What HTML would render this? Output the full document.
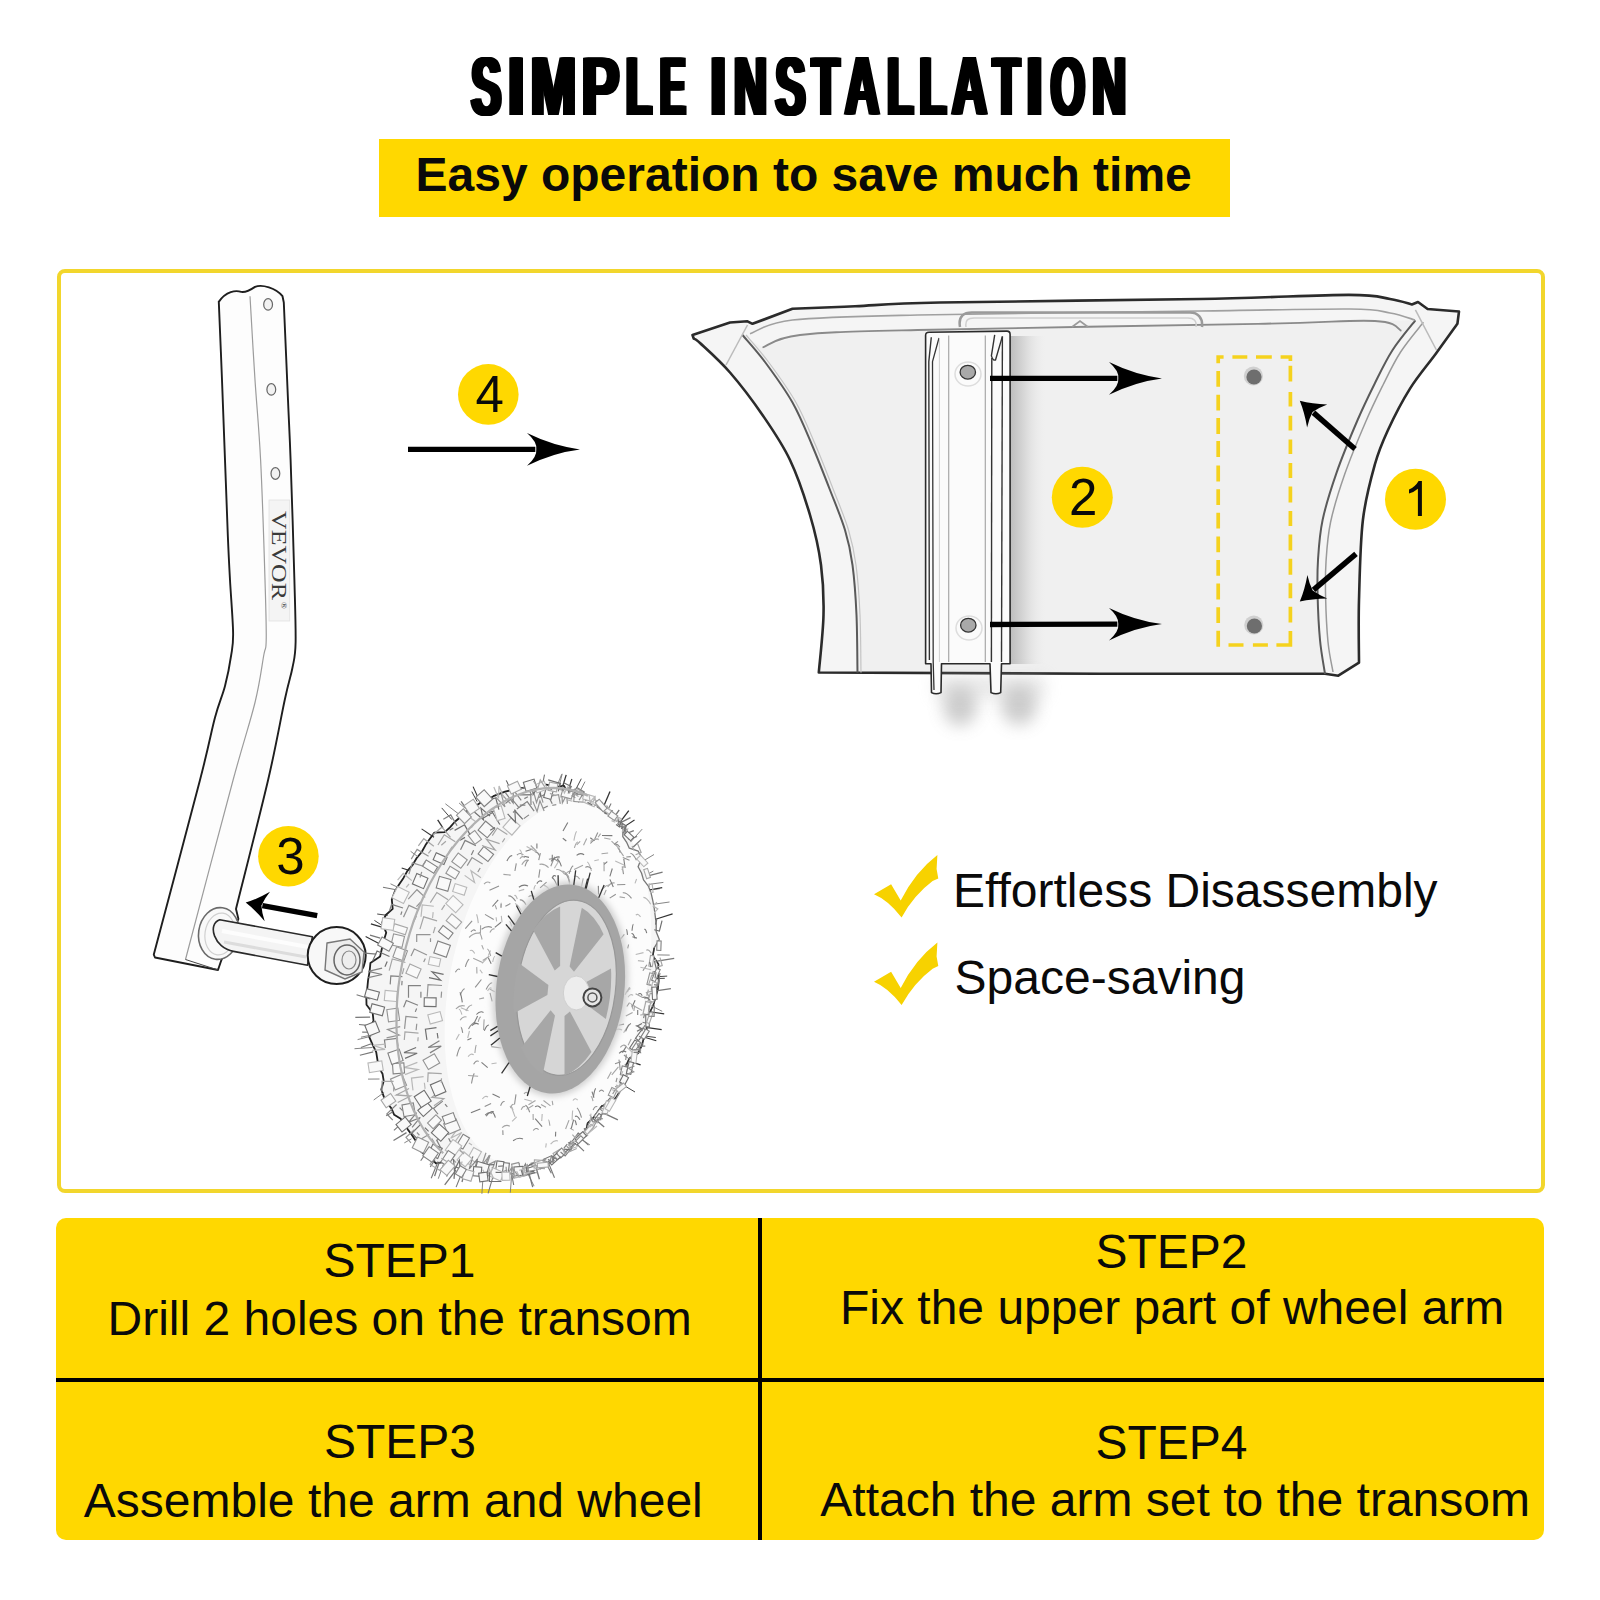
<!DOCTYPE html>
<html><head><meta charset="utf-8">
<style>
html,body{margin:0;padding:0;background:#fff;}
body{width:1600px;height:1600px;position:relative;overflow:hidden;font-family:"Liberation Sans",sans-serif;color:#0a0a0a;}
.t{position:absolute;white-space:nowrap;line-height:48px;font-size:48px;}
.sub{position:absolute;left:379px;top:139px;width:851px;height:78px;background:#FFD800;}
.box{position:absolute;left:57px;top:269px;width:1480px;height:916px;border:4px solid #F2D62C;border-radius:8px;}
.tbl{position:absolute;left:56px;top:1218px;width:1488px;height:322px;background:#FFD800;border-radius:10px;}
.vl{position:absolute;left:758px;top:1218px;width:4px;height:322px;background:#000;}
.hl{position:absolute;left:56px;top:1378px;width:1488px;height:4px;background:#000;}
svg{position:absolute;left:0;top:0;}
</style></head><body>
<svg width="1600" height="140" style="top:0">
<defs><g id="tw" font-family="Liberation Sans" font-weight="bold" font-size="84" fill="#000"><text transform="translate(468.71,115) scale(0.5345,1)">S</text><text transform="translate(505.36,115) scale(0.7190,1)">I</text><text transform="translate(528.25,115) scale(0.6487,1)">M</text><text transform="translate(579.33,115) scale(0.6711,1)">P</text><text transform="translate(623.47,115) scale(0.5034,1)">L</text><text transform="translate(657.44,115) scale(0.4562,1)">E</text><text transform="translate(707.55,115) scale(0.7025,1)">I</text><text transform="translate(731.45,115) scale(0.5427,1)">N</text><text transform="translate(773.11,115) scale(0.5345,1)">S</text><text transform="translate(809.50,115) scale(0.5317,1)">T</text><text transform="translate(842.62,115) scale(0.5643,1)">A</text><text transform="translate(884.65,115) scale(0.5080,1)">L</text><text transform="translate(917.07,115) scale(0.5220,1)">L</text><text transform="translate(949.40,115) scale(0.5749,1)">A</text><text transform="translate(990.51,115) scale(0.5236,1)">T</text><text transform="translate(1023.41,115) scale(0.7273,1)">I</text><text transform="translate(1048.19,115) scale(0.5243,1)">O</text><text transform="translate(1089.86,115) scale(0.5589,1)">N</text></g></defs>
<use href="#tw" x="0"/><use href="#tw" x="1"/><use href="#tw" x="2"/><use href="#tw" x="3"/><use href="#tw" x="4"/><use href="#tw" x="5"/>
</svg>
<div class="sub"></div>
<div class="t" style="left:415.5px;top:150.8px;font-weight:bold;">Easy operation to save much time</div>
<div class="box"></div>
<div class="tbl"></div>
<div class="vl"></div>
<div class="hl"></div>
<div class="t" style="left:323.4px;top:1237px;">STEP1</div>
<div class="t" style="left:107.5px;top:1294.6px;">Drill 2 holes on the transom</div>
<div class="t" style="left:1095.5px;top:1227.8px;">STEP2</div>
<div class="t" style="left:840px;top:1284.4px;">Fix the upper part of wheel arm</div>
<div class="t" style="left:323.9px;top:1418.2px;">STEP3</div>
<div class="t" style="left:83.8px;top:1476.6px;">Assemble the arm and wheel</div>
<div class="t" style="left:1095.5px;top:1419px;">STEP4</div>
<div class="t" style="left:820.3px;top:1475.8px;">Attach the arm set to the transom</div>
<div class="t" style="left:953px;top:867.1px;">Effortless Disassembly</div>
<div class="t" style="left:954.6px;top:953.9px;">Space-saving</div>
<svg width="1600" height="1600" viewBox="0 0 1600 1600">
<defs>
<filter id="blur8" x="-80%" y="-80%" width="260%" height="260%"><feGaussianBlur stdDeviation="8"/></filter>
<filter id="blur3" x="-50%" y="-50%" width="200%" height="200%"><feGaussianBlur stdDeviation="3"/></filter>
<linearGradient id="shR" x1="0" y1="0" x2="1" y2="0"><stop offset="0" stop-color="#bdbdbd"/><stop offset="0.4" stop-color="#d8d8d8"/><stop offset="1" stop-color="#ececec" stop-opacity="0"/></linearGradient>
</defs>
<path d="M692.5,335 L730.0,322.5 L747.5,321.3 L752.5,323.8 L792.5,308.8  C802.9,308.4 830.4,307.4 855.0,306.3 C879.6,305.2 882.5,303.7 940.0,302.5 C997.5,301.3 1131.9,300.3 1200.0,299.0 C1268.1,297.7 1317.1,294.9 1348.8,294.9 C1380.5,294.9 1379.5,297.4 1390.0,299.0 C1400.5,300.6 1408.2,303.6 1411.9,304.5 L1418.0,302.0 L1427.6,309.0 L1459.0,311.5 L1457.4,323.8  C1453.8,328.8 1443.9,342.7 1436.0,353.5 C1428.1,364.3 1418.0,375.9 1410.0,388.6 C1402.0,401.4 1393.8,417.4 1388.0,430.0 C1382.2,442.6 1379.2,449.0 1375.0,464.0 C1370.8,479.0 1365.6,497.3 1362.9,520.0 C1360.2,542.7 1359.7,576.2 1359.0,600.0 C1358.3,623.8 1359.0,652.2 1359.0,662.6 L1338.3,675.7 L1325.0,673.8 L1100.0,673.8 L818.8,672.5  C819.6,662.9 823.1,632.9 823.5,615.0 C823.9,597.1 823.2,581.7 821.0,565.0 C818.8,548.3 815.2,532.5 810.0,515.0 C804.8,497.5 797.9,476.7 790.0,460.0 C782.1,443.3 772.5,429.6 762.5,415.0 C752.5,400.4 740.4,384.5 730.0,372.5 C719.6,360.5 706.0,348.6 700.0,343.0 C694.0,337.4 694.8,339.5 693.8,338.8 Z" fill="#f5f5f5"/>
<path d="M742.5,335.0 C746.2,339.5 756.7,350.8 765.0,362.0 C773.3,373.2 784.7,388.7 792.5,402.5 C800.3,416.3 805.8,430.4 812.0,445.0 C818.2,459.6 824.5,475.8 830.0,490.0 C835.5,504.2 841.2,517.5 845.0,530.0 C848.8,542.5 850.6,550.8 852.5,565.0 C854.4,579.2 855.7,597.1 856.5,615.0 C857.3,632.9 857.3,662.9 857.5,672.5 L1325.0,673.8  C1324.2,668.2 1321.2,653.1 1320.0,640.0 C1318.8,626.9 1317.9,608.3 1317.6,595.0 C1317.3,581.7 1317.2,572.5 1318.0,560.0 C1318.8,547.5 1319.5,534.6 1322.6,520.0 C1325.7,505.4 1330.8,489.3 1336.6,472.6 C1342.4,455.9 1351.2,434.9 1357.6,420.0 C1364.0,405.1 1369.2,394.7 1375.0,383.0 C1380.8,371.3 1385.9,360.4 1392.6,350.0 C1399.3,339.6 1411.6,325.2 1415.4,320.3 L1375.0,321.0 L1257.8,323.8 L917.5,330.0 L800.0,335.0 L762.5,347.5 Z" fill="#f0f0f0"/>
<path d="M692.5,335 L730.0,322.5 L747.5,321.3 L752.5,323.8 L792.5,308.8  C802.9,308.4 830.4,307.4 855.0,306.3 C879.6,305.2 882.5,303.7 940.0,302.5 C997.5,301.3 1131.9,300.3 1200.0,299.0 C1268.1,297.7 1317.1,294.9 1348.8,294.9 C1380.5,294.9 1379.5,297.4 1390.0,299.0 C1400.5,300.6 1408.2,303.6 1411.9,304.5 L1418.0,302.0 L1427.6,309.0 L1459.0,311.5 L1457.4,323.8  C1453.8,328.8 1443.9,342.7 1436.0,353.5 C1428.1,364.3 1418.0,375.9 1410.0,388.6 C1402.0,401.4 1393.8,417.4 1388.0,430.0 C1382.2,442.6 1379.2,449.0 1375.0,464.0 C1370.8,479.0 1365.6,497.3 1362.9,520.0 C1360.2,542.7 1359.7,576.2 1359.0,600.0 C1358.3,623.8 1359.0,652.2 1359.0,662.6 L1338.3,675.7 L1325.0,673.8 L1100.0,673.8 L818.8,672.5  C819.6,662.9 823.1,632.9 823.5,615.0 C823.9,597.1 823.2,581.7 821.0,565.0 C818.8,548.3 815.2,532.5 810.0,515.0 C804.8,497.5 797.9,476.7 790.0,460.0 C782.1,443.3 772.5,429.6 762.5,415.0 C752.5,400.4 740.4,384.5 730.0,372.5 C719.6,360.5 706.0,348.6 700.0,343.0 C694.0,337.4 694.8,339.5 693.8,338.8 Z" fill="none" stroke="#2b2b2b" stroke-width="2.6" stroke-linejoin="round"/>
<path d="M742.5,335.0 C746.2,339.5 756.7,350.8 765.0,362.0 C773.3,373.2 784.7,388.7 792.5,402.5 C800.3,416.3 805.8,430.4 812.0,445.0 C818.2,459.6 824.5,475.8 830.0,490.0 C835.5,504.2 841.2,517.5 845.0,530.0 C848.8,542.5 850.6,550.8 852.5,565.0 C854.4,579.2 855.7,597.1 856.5,615.0 C857.3,632.9 857.3,662.9 857.5,672.5" fill="none" stroke="#5a5a5a" stroke-width="2"/>
<path d="M746.0,335.0 C749.8,339.5 760.2,350.8 768.5,362.0 C776.8,373.2 788.2,388.7 796.0,402.5 C803.8,416.3 809.2,430.4 815.5,445.0 C821.8,459.6 828.0,475.8 833.5,490.0 C839.0,504.2 844.8,517.5 848.5,530.0 C852.2,542.5 854.1,550.8 856.0,565.0 C857.9,579.2 859.2,597.1 860.0,615.0 C860.8,632.9 860.8,662.9 861.0,672.5" fill="none" stroke="#c4c4c4" stroke-width="1.2"/>
<path d="M1415.4,320.3 C1411.6,325.2 1399.3,339.6 1392.6,350.0 C1385.9,360.4 1380.8,371.3 1375.0,383.0 C1369.2,394.7 1364.0,405.1 1357.6,420.0 C1351.2,434.9 1342.4,455.9 1336.6,472.6 C1330.8,489.3 1325.7,505.4 1322.6,520.0 C1319.5,534.6 1318.8,547.5 1318.0,560.0 C1317.2,572.5 1317.3,581.7 1317.6,595.0 C1317.9,608.3 1318.8,626.9 1320.0,640.0 C1321.2,653.1 1324.2,668.2 1325.0,673.8" fill="none" stroke="#5a5a5a" stroke-width="2"/>
<path d="M1423.4,322.3 C1419.6,327.2 1407.3,341.6 1400.6,352.0 C1393.9,362.4 1388.8,373.3 1383.0,385.0 C1377.2,396.7 1372.0,407.1 1365.6,422.0 C1359.2,436.9 1350.4,457.9 1344.6,474.6 C1338.8,491.3 1333.7,507.4 1330.6,522.0 C1327.5,536.6 1326.8,549.5 1326.0,562.0 C1325.2,574.5 1325.3,583.7 1325.6,597.0 C1325.9,610.3 1326.8,629.5 1328.0,642.0 C1329.2,654.5 1332.2,667.0 1333.0,672.0" fill="none" stroke="#9a9a9a" stroke-width="1.5"/>
<path d="M747.5,325 L726,365" stroke="#bbb" stroke-width="1.5" fill="none"/>
<path d="M1415.4,309.8 L1436.4,350" stroke="#bbb" stroke-width="1.5" fill="none"/>
<path d="M750.0,333.8 C757.1,331.5 764.6,323.1 792.5,320.0 C820.4,316.9 849.6,316.5 917.5,315.0 C985.4,313.5 1127.9,312.0 1200.0,311.0 C1272.1,310.0 1318.3,308.7 1350.0,309.0 C1381.7,309.3 1379.2,311.2 1390.0,313.0 C1400.8,314.8 1410.8,318.8 1415.0,320.0" fill="none" stroke="#a0a0a0" stroke-width="1.6"/>
<path d="M762.5,347.5 C768.8,345.4 774.2,337.9 800.0,335.0 C825.8,332.1 841.2,331.9 917.5,330.0 C993.8,328.1 1181.5,325.3 1257.8,323.8 C1334.0,322.3 1351.1,319.8 1375.0,321.0 C1398.9,322.2 1397.0,329.2 1401.4,330.8" fill="none" stroke="#8a8a8a" stroke-width="1.8"/>
<path d="M960,327 C958,316 964,312.5 972,312.5 L1190,312.5 C1198,312.5 1203,318 1202,327" fill="none" stroke="#9a9a9a" stroke-width="2.5"/>
<path d="M966,327 C965,320 968,318 974,318 L1188,318 C1194,318 1197,321 1196,327" fill="none" stroke="#cfcfcf" stroke-width="1.5"/>
<path d="M1072,327 L1080,321 L1088,327" fill="none" stroke="#9a9a9a" stroke-width="1.8"/>
<circle cx="1253.4" cy="376" r="9.6" fill="#d0d0d0"/><circle cx="1254" cy="377" r="7.6" fill="#6e6e6e"/>
<circle cx="1253.8" cy="625" r="9.6" fill="#d0d0d0"/><circle cx="1254.4" cy="626" r="7.6" fill="#6e6e6e"/>
<rect x="1010" y="336" width="36" height="328" fill="url(#shR)"/>
<ellipse cx="960" cy="706" rx="17" ry="20" fill="#8a8a8a" opacity="0.42" filter="url(#blur8)"/>
<ellipse cx="1019" cy="705" rx="18" ry="20" fill="#8a8a8a" opacity="0.42" filter="url(#blur8)"/>
<rect x="935" y="676" width="110" height="22" fill="#bdbdbd" opacity="0.35" filter="url(#blur8)"/>
<g stroke-linejoin="round">
<path d="M925.6,335.5 Q925.6,332.3 929,332.3 L1007,331.1 Q1010.1,331.1 1010.1,334.5 L1010.1,663.7 L1001.5,663.7 L1000.7,692.6 Q996,695 991,692.6 L990,663.7 L941.5,663.7 L941,692.6 Q936,695 931.5,692.6 L931,663.7 L925.6,663.7 Z" fill="#fbfbfb" stroke="#2a2a2a" stroke-width="1.6"/>
<path d="M931.3,337.2 L928.8,361.6 L929.4,660" fill="none" stroke="#333" stroke-width="1.4"/>
<path d="M939,338 L932.5,361.6 L933.2,662 L934,690" fill="none" stroke="#333" stroke-width="1.3"/>
<line x1="939.4" y1="338" x2="939.4" y2="662" stroke="#cfcfcf" stroke-width="1"/>
<line x1="948.7" y1="335.6" x2="948.7" y2="662" stroke="#a8a8a8" stroke-width="1.2"/>
<line x1="985.3" y1="335.6" x2="985.3" y2="662" stroke="#a8a8a8" stroke-width="1.2"/>
<path d="M994.7,334.8 L991.4,355.9 Q993,361 995.5,360 L1002.4,336.4" fill="none" stroke="#333" stroke-width="1.4"/>
<line x1="991.8" y1="358" x2="991.4" y2="662" stroke="#333" stroke-width="1.4"/>
<line x1="1002.4" y1="336.4" x2="1001.5" y2="662" stroke="#333" stroke-width="1.4"/>
<ellipse cx="968" cy="374" rx="13" ry="12" fill="none" stroke="#ddd" stroke-width="1.5"/>
<ellipse cx="967.8" cy="372.2" rx="7.7" ry="6.9" fill="#a9a9a9" stroke="#333" stroke-width="1.3"/>
<ellipse cx="969" cy="628" rx="13" ry="12" fill="none" stroke="#ddd" stroke-width="1.5"/>
<ellipse cx="968.3" cy="625.2" rx="7.7" ry="6.9" fill="#a9a9a9" stroke="#333" stroke-width="1.3"/>
</g>
<path d="M218.8,301.9 C219.3,314.9 221.0,353.6 222.0,380.0 C223.0,406.4 224.0,434.2 225.0,460.0 C226.0,485.8 227.0,515.0 227.8,535.0 C228.6,555.0 229.1,563.8 230.0,580.0 C230.9,596.2 232.9,620.0 233.1,632.5 C233.3,645.0 232.6,646.1 231.2,655.0 C229.9,663.9 227.7,675.6 225.0,686.0 C222.3,696.4 219.2,701.8 215.0,717.5 C210.8,733.2 210.2,740.5 200.0,780.0 C189.8,819.5 161.5,925.5 153.8,954.6 L155.0,957.5 L218.0,970.0 L221.3,960.3 L238.4,918.9 L236.0,909.0  C241.3,887.5 259.9,815.0 268.1,780.0 C276.3,745.0 280.9,717.5 285.0,698.8 C289.1,680.0 290.7,676.9 292.5,667.5 C294.3,658.1 295.3,657.1 295.6,642.5 C295.9,627.9 295.2,610.4 294.4,580.0 C293.6,549.6 291.7,490.0 290.6,460.0 C289.5,430.0 289.1,426.2 288.0,400.0 C286.9,373.8 284.5,318.8 283.8,302.5 L282.5,296.2 C276,288 262,284 255,286.9 C249,291 245,292.5 241.25,291.9 C236,290 226,291 218.75,301.9 Z" fill="#fdfdfd" stroke="#1e1e1e" stroke-width="1.9" stroke-linejoin="round"/>
<path d="M250.0,296.2 C250.8,310.2 253.2,352.7 255.0,380.0 C256.8,407.3 258.9,426.7 260.6,460.0 C262.3,493.3 264.1,550.0 265.0,580.0 C265.9,610.0 266.5,627.5 266.2,640.0 C266.0,652.5 265.6,644.6 263.8,655.0 C261.9,665.4 260.1,681.7 255.0,702.5 C249.9,723.3 244.7,737.2 233.1,780.0 C221.5,822.8 193.4,929.6 185.5,959.5" fill="none" stroke="#9c9c9c" stroke-width="1.2"/>
<path d="M185.5,959.5 L218,970" stroke="#444" stroke-width="1" fill="none"/>
<ellipse cx="268.1" cy="304.4" rx="4.4" ry="5.8" fill="#f2f2f2" stroke="#666" stroke-width="1.2"/>
<ellipse cx="271.3" cy="389.4" rx="4.4" ry="5.8" fill="#f2f2f2" stroke="#666" stroke-width="1.2"/>
<ellipse cx="275.4" cy="473.5" rx="4.4" ry="5.8" fill="#f2f2f2" stroke="#666" stroke-width="1.2"/>
<rect x="269" y="500" width="20.7" height="121" fill="#f4f4f4" stroke="#e2e2e2" stroke-width="0.8"/>
<text transform="translate(271.5,511) rotate(90)" font-family="Liberation Serif" font-size="20" fill="#3a3a3a" textLength="89" lengthAdjust="spacingAndGlyphs">VEVOR</text>
<text transform="translate(280.5,602) rotate(90)" font-family="Liberation Serif" font-size="9" fill="#444">&#174;</text>
<ellipse cx="218.9" cy="933.5" rx="20.3" ry="26" transform="rotate(8 218.9 933.5)" fill="#f9f9f9" stroke="#6a6a6a" stroke-width="1.6"/>
<ellipse cx="220" cy="934" rx="15" ry="21" transform="rotate(8 220 934)" fill="none" stroke="#d0d0d0" stroke-width="1.2"/>
<path d="M219.7,919.7 L312.4,936.7 L307.5,965.2 L233.5,951.4 C214,948 207,924 219.7,919.7 Z" fill="#f4f4f4" stroke="#2a2a2a" stroke-width="1.6" stroke-linejoin="round"/>
<path d="M222,931 L308,947" stroke="#fdfdfd" stroke-width="4" fill="none"/>
<path d="M224,942 L306,957" stroke="#dcdcdc" stroke-width="3" fill="none"/>
<ellipse cx="336.7" cy="955.6" rx="29" ry="28.5" fill="#f8f8f8" stroke="#1e1e1e" stroke-width="2"/>
<path d="M327,943 L350,939 L364,952 L362,972 L345,979 L325,970 Z" fill="#eeeeee" stroke="#777" stroke-width="1.4"/>
<ellipse cx="347" cy="960" rx="13" ry="15" fill="none" stroke="#666" stroke-width="1.5"/>
<ellipse cx="349" cy="960" rx="7" ry="9" fill="none" stroke="#888" stroke-width="1.2"/>
<path d="M649.4,1013.2 L646.8,1021.2 L646.9,1029.9 L643.9,1037.7 L641.7,1045.8 L638.0,1053.3 L629.3,1058.5 L626.0,1065.8 L622.9,1073.2 L625.1,1083.5 L620.6,1090.3 L616.3,1097.1 L611.2,1103.2 L601.8,1105.9 L597.4,1112.1 L593.0,1118.1 L587.6,1123.2 L585.8,1131.7 L580.6,1136.8 L575.2,1141.6 L570.9,1147.7 L565.3,1152.1 L559.5,1156.0 L553.3,1159.0 L548.2,1163.8 L539.3,1161.0 L533.4,1163.1 L527.9,1166.1 L521.8,1167.2 L517.1,1173.2 L511.0,1173.8 L504.7,1172.8 L498.9,1174.0 L493.1,1174.1 L487.3,1173.4 L481.2,1177.9 L476.0,1172.1 L470.3,1171.7 L463.5,1175.1 L459.5,1168.4 L454.2,1166.5 L448.8,1164.4 L443.5,1162.2 L435.9,1163.3 L431.6,1158.7 L426.0,1155.8 L421.3,1151.7 L419.7,1144.3 L415.2,1140.0 L411.7,1134.7 L407.9,1129.6 L404.2,1124.3 L400.7,1118.8 L394.2,1114.8 L391.4,1108.4 L386.9,1102.8 L383.7,1096.4 L381.3,1089.5 L383.7,1080.9 L382.5,1073.7 L378.6,1067.1 L377.4,1059.6 L376.2,1052.1 L372.7,1044.8 L369.3,1037.2 L368.5,1029.3 L373.5,1021.0 L372.7,1013.0 L366.5,1004.8 L366.3,996.5 L367.3,988.2 L368.1,979.8 L369.6,971.6 L370.4,963.1 L380.1,956.5 L381.9,948.5 L383.8,940.5 L386.2,932.7 L382.1,922.6 L385.8,915.0 L392.7,908.9 L391.8,899.6 L394.7,891.8 L398.9,884.7 L403.5,877.9 L407.4,870.9 L412.7,864.8 L416.7,858.0 L421.7,852.0 L425.5,845.1 L429.9,838.8 L434.4,832.6 L444.7,832.2 L450.0,827.4 L454.6,822.0 L459.9,817.5 L466.0,814.2 L468.7,806.0 L476.4,805.6 L481.8,801.8 L487.9,799.6 L493.4,796.2 L499.2,793.9 L505.0,791.6 L511.0,790.3 L516.8,788.8 L522.7,787.9 L528.5,786.9 L534.3,786.7 L540.2,784.1 L546.1,784.6 L551.8,785.6 L557.5,786.9 L563.9,785.7 L567.8,792.6 L573.4,793.9 L578.5,796.6 L583.4,799.6 L588.4,802.5 L594.9,803.4 L599.9,806.8 L605.2,810.1 L610.6,813.6 L615.3,818.0 L619.7,822.7 L622.9,828.6 L622.8,836.7 L626.5,842.1 L629.3,848.2 L638.3,851.2 L641.7,857.5 L638.1,866.7 L641.5,873.0 L643.5,879.9 L648.4,886.1 L651.1,893.2 L652.8,900.6 L654.2,908.2 L655.2,915.9 L656.2,923.7 L656.2,931.7 L659.3,939.6 L654.2,947.8 L652.8,955.8 L658.5,964.2 L658.0,972.4 L658.7,980.9 L657.9,989.3 L655.6,997.4 L653.2,1005.5Z" fill="#fcfcfc"/>
<path d="M649.4,1013.2 L646.8,1021.2 L646.9,1029.9 L643.9,1037.7 L641.7,1045.8 L638.0,1053.3 L629.3,1058.5 L626.0,1065.8 L622.9,1073.2 L625.1,1083.5 L620.6,1090.3 L616.3,1097.1 L611.2,1103.2 L601.8,1105.9 L597.4,1112.1 L593.0,1118.1 L587.6,1123.2 L585.8,1131.7 L580.6,1136.8 L575.2,1141.6 L570.9,1147.7 L565.3,1152.1 L559.5,1156.0 L553.3,1159.0 L548.2,1163.8 L539.3,1161.0 L533.4,1163.1 L527.9,1166.1 L521.8,1167.2 L517.1,1173.2 L511.0,1173.8 L504.7,1172.8 L498.9,1174.0 L493.1,1174.1 L487.3,1173.4 L481.2,1177.9 L476.0,1172.1 L470.3,1171.7 L463.5,1175.1 L459.5,1168.4 L454.2,1166.5 L448.8,1164.4 L443.5,1162.2 L435.9,1163.3 L431.6,1158.7 L426.0,1155.8 L421.3,1151.7 L419.7,1144.3 L415.2,1140.0 L411.7,1134.7 L407.9,1129.6 L404.2,1124.3 L400.7,1118.8 L394.2,1114.8 L391.4,1108.4 L386.9,1102.8 L383.7,1096.4 L381.3,1089.5 L383.7,1080.9 L382.5,1073.7 L378.6,1067.1 L377.4,1059.6 L376.2,1052.1 L372.7,1044.8 L369.3,1037.2 L368.5,1029.3 L373.5,1021.0 L372.7,1013.0 L366.5,1004.8 L366.3,996.5 L367.3,988.2 L368.1,979.8 L369.6,971.6 L370.4,963.1 L380.1,956.5 L381.9,948.5 L383.8,940.5 L386.2,932.7 L382.1,922.6 L385.8,915.0 L392.7,908.9 L391.8,899.6 L394.7,891.8 L398.9,884.7 L403.5,877.9 L407.4,870.9 L412.7,864.8 L416.7,858.0 L421.7,852.0 L425.5,845.1 L429.9,838.8 L434.4,832.6 L444.7,832.2 L450.0,827.4 L454.6,822.0 L459.9,817.5 L466.0,814.2 L468.7,806.0 L476.4,805.6 L481.8,801.8 L487.9,799.6 L493.4,796.2 L499.2,793.9 L505.0,791.6 L511.0,790.3 L516.8,788.8 L522.7,787.9 L528.5,786.9 L534.3,786.7 L540.2,784.1 L546.1,784.6 L551.8,785.6 L557.5,786.9 L563.9,785.7 L567.8,792.6 L573.4,793.9 L578.5,796.6 L583.4,799.6 L588.4,802.5 L594.9,803.4 L599.9,806.8 L605.2,810.1 L610.6,813.6 L615.3,818.0 L619.7,822.7 L622.9,828.6 L622.8,836.7 L626.5,842.1 L629.3,848.2 L638.3,851.2 L641.7,857.5 L638.1,866.7 L641.5,873.0 L643.5,879.9 L648.4,886.1 L651.1,893.2 L652.8,900.6 L654.2,908.2 L655.2,915.9 L656.2,923.7 L656.2,931.7 L659.3,939.6 L654.2,947.8 L652.8,955.8 L658.5,964.2 L658.0,972.4 L658.7,980.9 L657.9,989.3 L655.6,997.4 L653.2,1005.5Z M643.9,1004.4 L640.9,1017.0 L637.5,1029.5 L633.7,1041.8 L629.5,1053.7 L624.9,1065.4 L619.8,1076.6 L614.5,1087.4 L608.8,1097.7 L602.8,1107.4 L596.6,1116.6 L590.1,1125.0 L583.4,1132.8 L576.5,1139.9 L569.5,1146.2 L562.4,1151.7 L555.3,1156.5 L548.1,1160.3 L540.8,1163.3 L533.7,1165.5 L526.6,1166.7 L519.6,1167.1 L512.7,1166.5 L506.0,1165.1 L499.5,1162.8 L493.3,1159.6 L487.3,1155.6 L481.6,1150.7 L476.2,1145.1 L471.2,1138.6 L466.6,1131.4 L462.3,1123.4 L458.5,1114.8 L455.1,1105.6 L452.2,1095.7 L449.7,1085.3 L447.7,1074.5 L446.2,1063.1 L445.2,1051.4 L444.7,1039.4 L444.7,1027.1 L445.2,1014.6 L446.2,1001.9 L447.7,989.1 L449.7,976.4 L452.1,963.6 L455.1,951.0 L458.5,938.5 L462.3,926.2 L466.5,914.3 L471.1,902.6 L476.2,891.4 L481.5,880.6 L487.2,870.3 L493.2,860.6 L499.4,851.4 L505.9,843.0 L512.6,835.2 L519.5,828.1 L526.5,821.8 L533.6,816.3 L540.7,811.5 L547.9,807.7 L555.2,804.7 L562.3,802.5 L569.4,801.3 L576.4,800.9 L583.3,801.5 L590.0,802.9 L596.5,805.2 L602.7,808.4 L608.7,812.4 L614.4,817.3 L619.8,822.9 L624.8,829.4 L629.4,836.6 L633.7,844.6 L637.5,853.2 L640.9,862.4 L643.8,872.3 L646.3,882.7 L648.3,893.5 L649.8,904.9 L650.8,916.6 L651.3,928.6 L651.3,940.9 L650.8,953.4 L649.8,966.1 L648.3,978.9 L646.3,991.6Z" fill="#f5f5f5" fill-rule="evenodd"/>
<path d="M443.5,1162.2 L435.9,1163.3 L431.6,1158.7 L426.0,1155.8 L421.3,1151.7 L419.7,1144.3 L415.2,1140.0 L411.7,1134.7 L407.9,1129.6 L404.2,1124.3 L400.7,1118.8 L394.2,1114.8 L391.4,1108.4 L386.9,1102.8 L383.7,1096.4 L381.3,1089.5 L383.7,1080.9 L382.5,1073.7 L378.6,1067.1 L377.4,1059.6 L376.2,1052.1 L372.7,1044.8 L369.3,1037.2 L368.5,1029.3 L373.5,1021.0 L372.7,1013.0 L366.5,1004.8 L366.3,996.5 L367.3,988.2 L368.1,979.8 L369.6,971.6 L370.4,963.1 L380.1,956.5 L381.9,948.5 L383.8,940.5 L386.2,932.7 L382.1,922.6 L385.8,915.0 L392.7,908.9 L391.8,899.6 L394.7,891.8 L398.9,884.7 L403.5,877.9 L407.4,870.9 L412.7,864.8 L416.7,858.0 L421.7,852.0 L425.5,845.1 L429.9,838.8 L434.4,832.6 L444.7,832.2 L450.0,827.4 L454.6,822.0 L459.9,817.5 L466.0,814.2 L468.7,806.0 L476.4,805.6 L481.8,801.8 L487.9,799.6 L493.4,796.2 L499.2,793.9 L505.0,791.6 L511.0,790.3 L516.8,788.8 L522.7,787.9 L528.5,786.9 L534.3,786.7 L540.2,784.1 L546.1,784.6 L551.8,785.6 L557.5,786.9 L563.9,785.7 L567.8,792.6 L573.4,793.9 L578.5,796.6 L583.4,799.6 L588.4,802.5 L594.9,803.4 L599.9,806.8 L605.2,810.1" fill="none" stroke="#222" stroke-width="1.8" stroke-linejoin="round"/>
<path d="M605.2,810.1 L610.6,813.6 L615.3,818.0 L619.7,822.7 L622.9,828.6 L622.8,836.7 L626.5,842.1 L629.3,848.2 L638.3,851.2 L641.7,857.5 L638.1,866.7 L641.5,873.0 L643.5,879.9 L648.4,886.1 L651.1,893.2 L652.8,900.6 L654.2,908.2 L655.2,915.9 L656.2,923.7 L656.2,931.7 L659.3,939.6 L654.2,947.8 L652.8,955.8 L658.5,964.2 L658.0,972.4 L658.7,980.9 L657.9,989.3 L655.6,997.4 L653.2,1005.5 L649.4,1013.2 L646.8,1021.2 L646.9,1029.9 L643.9,1037.7 L641.7,1045.8 L638.0,1053.3 L629.3,1058.5 L626.0,1065.8 L622.9,1073.2 L625.1,1083.5 L620.6,1090.3 L616.3,1097.1 L611.2,1103.2 L601.8,1105.9 L597.4,1112.1 L593.0,1118.1 L587.6,1123.2 L585.8,1131.7 L580.6,1136.8 L575.2,1141.6 L570.9,1147.7 L565.3,1152.1 L559.5,1156.0 L553.3,1159.0 L548.2,1163.8 L539.3,1161.0 L533.4,1163.1 L527.9,1166.1 L521.8,1167.2 L517.1,1173.2 L511.0,1173.8 L504.7,1172.8 L498.9,1174.0 L493.1,1174.1 L487.3,1173.4 L481.2,1177.9 L476.0,1172.1 L470.3,1171.7 L463.5,1175.1 L459.5,1168.4 L454.2,1166.5 L448.8,1164.4" fill="none" stroke="#777" stroke-width="1.3" stroke-linejoin="round"/>
<path d="M654.2,947.8 L652.8,955.8 L658.5,964.2 L658.0,972.4 L658.7,980.9 L657.9,989.3 L655.6,997.4 L653.2,1005.5 L649.4,1013.2 L646.8,1021.2 L646.9,1029.9 L643.9,1037.7 L641.7,1045.8 L638.0,1053.3 L629.3,1058.5 L626.0,1065.8 L622.9,1073.2 L625.1,1083.5 L620.6,1090.3 L616.3,1097.1 L611.2,1103.2 L601.8,1105.9 L597.4,1112.1 L593.0,1118.1 L587.6,1123.2 L585.8,1131.7" fill="none" stroke="#333" stroke-width="1.6" stroke-linejoin="round"/>
<line x1="370.3" y1="999.0" x2="356.6" y2="994.8" stroke="#777" stroke-width="1.1"/><line x1="618.1" y1="824.7" x2="628.8" y2="810.6" stroke="#333" stroke-width="1.3"/><line x1="643.1" y1="1035.8" x2="655.8" y2="1037.5" stroke="#333" stroke-width="0.9"/><line x1="535.8" y1="1166.5" x2="539.4" y2="1179.2" stroke="#777" stroke-width="1.3"/><line x1="621.7" y1="1084.1" x2="635.0" y2="1092.0" stroke="#333" stroke-width="0.9"/><line x1="645.8" y1="875.2" x2="653.3" y2="871.1" stroke="#777" stroke-width="0.9"/><line x1="578.8" y1="793.7" x2="585.0" y2="781.6" stroke="#777" stroke-width="0.9"/><line x1="370.1" y1="1017.2" x2="355.3" y2="1017.4" stroke="#777" stroke-width="1.3"/><line x1="511.6" y1="1174.1" x2="513.7" y2="1185.0" stroke="#777" stroke-width="1.1"/><line x1="380.3" y1="938.1" x2="370.0" y2="935.1" stroke="#777" stroke-width="1.1"/><line x1="655.6" y1="919.2" x2="672.6" y2="913.9" stroke="#333" stroke-width="1.1"/><line x1="579.2" y1="1137.9" x2="589.9" y2="1144.9" stroke="#777" stroke-width="0.9"/><line x1="371.1" y1="1035.1" x2="361.0" y2="1037.2" stroke="#777" stroke-width="0.9"/><line x1="650.2" y1="889.9" x2="659.8" y2="888.7" stroke="#777" stroke-width="0.9"/><line x1="464.4" y1="1172.8" x2="462.0" y2="1182.0" stroke="#777" stroke-width="1.3"/><line x1="657.3" y1="954.9" x2="669.7" y2="955.1" stroke="#777" stroke-width="0.9"/><line x1="545.5" y1="1161.9" x2="551.3" y2="1173.2" stroke="#777" stroke-width="1.1"/><line x1="372.0" y1="1043.4" x2="360.9" y2="1047.6" stroke="#777" stroke-width="1.1"/><line x1="642.8" y1="1036.7" x2="656.3" y2="1040.7" stroke="#333" stroke-width="1.1"/><line x1="383.8" y1="926.6" x2="374.4" y2="920.4" stroke="#333" stroke-width="0.9"/><line x1="655.7" y1="978.5" x2="664.8" y2="978.3" stroke="#333" stroke-width="0.9"/><line x1="450.1" y1="1167.7" x2="446.6" y2="1176.5" stroke="#777" stroke-width="1.3"/><line x1="612.9" y1="818.8" x2="619.2" y2="810.0" stroke="#777" stroke-width="1.3"/><line x1="376.3" y1="954.1" x2="364.8" y2="953.1" stroke="#777" stroke-width="1.3"/><line x1="526.0" y1="1170.2" x2="534.1" y2="1186.1" stroke="#777" stroke-width="0.9"/><line x1="458.7" y1="814.0" x2="445.4" y2="803.8" stroke="#777" stroke-width="0.9"/><line x1="454.9" y1="1169.7" x2="454.0" y2="1178.9" stroke="#777" stroke-width="1.3"/><line x1="372.5" y1="1047.5" x2="354.5" y2="1048.7" stroke="#777" stroke-width="0.9"/><line x1="387.7" y1="915.4" x2="377.2" y2="914.0" stroke="#333" stroke-width="0.9"/><line x1="528.0" y1="1169.6" x2="532.7" y2="1187.2" stroke="#777" stroke-width="1.3"/><line x1="568.4" y1="789.6" x2="571.9" y2="779.0" stroke="#333" stroke-width="1.1"/><line x1="602.5" y1="808.9" x2="610.0" y2="791.6" stroke="#333" stroke-width="1.3"/><line x1="399.6" y1="888.2" x2="390.5" y2="883.8" stroke="#777" stroke-width="0.9"/><line x1="479.2" y1="800.4" x2="473.1" y2="786.6" stroke="#333" stroke-width="1.1"/><line x1="655.9" y1="976.8" x2="667.2" y2="976.1" stroke="#333" stroke-width="0.9"/><line x1="621.3" y1="828.6" x2="634.5" y2="820.0" stroke="#333" stroke-width="1.1"/><line x1="654.0" y1="991.1" x2="670.9" y2="988.6" stroke="#777" stroke-width="1.1"/><line x1="370.8" y1="1032.2" x2="362.2" y2="1032.1" stroke="#777" stroke-width="1.1"/><line x1="640.8" y1="862.4" x2="654.0" y2="854.5" stroke="#777" stroke-width="0.9"/><line x1="509.8" y1="788.1" x2="506.3" y2="780.4" stroke="#333" stroke-width="0.9"/><line x1="455.9" y1="1170.1" x2="444.7" y2="1184.8" stroke="#777" stroke-width="1.3"/><line x1="411.5" y1="1138.8" x2="404.3" y2="1142.9" stroke="#777" stroke-width="0.9"/><line x1="392.9" y1="1111.7" x2="386.1" y2="1115.9" stroke="#777" stroke-width="1.1"/><line x1="443.3" y1="1164.4" x2="438.3" y2="1178.7" stroke="#777" stroke-width="0.9"/><line x1="602.6" y1="1112.6" x2="617.9" y2="1119.9" stroke="#777" stroke-width="1.3"/><line x1="632.8" y1="1062.3" x2="640.6" y2="1064.9" stroke="#333" stroke-width="1.3"/><line x1="657.1" y1="961.2" x2="674.2" y2="958.3" stroke="#777" stroke-width="1.3"/><line x1="379.5" y1="1079.0" x2="368.0" y2="1079.1" stroke="#777" stroke-width="0.9"/><line x1="439.3" y1="1162.1" x2="434.6" y2="1176.1" stroke="#777" stroke-width="1.3"/><line x1="648.7" y1="884.4" x2="663.4" y2="882.4" stroke="#777" stroke-width="0.9"/><line x1="653.4" y1="904.3" x2="669.5" y2="902.0" stroke="#777" stroke-width="0.9"/><line x1="617.7" y1="824.1" x2="630.5" y2="817.7" stroke="#777" stroke-width="1.3"/><line x1="465.8" y1="808.8" x2="459.1" y2="803.0" stroke="#777" stroke-width="0.9"/><line x1="384.1" y1="1092.4" x2="373.7" y2="1100.0" stroke="#777" stroke-width="0.9"/><line x1="451.9" y1="819.6" x2="441.7" y2="807.9" stroke="#333" stroke-width="0.9"/><line x1="558.9" y1="787.0" x2="562.2" y2="773.8" stroke="#777" stroke-width="0.9"/><line x1="556.8" y1="786.5" x2="561.7" y2="774.3" stroke="#777" stroke-width="0.9"/><line x1="542.5" y1="784.7" x2="544.5" y2="774.6" stroke="#777" stroke-width="1.1"/><line x1="628.8" y1="839.4" x2="637.1" y2="836.4" stroke="#777" stroke-width="1.1"/><line x1="574.5" y1="791.9" x2="581.3" y2="778.7" stroke="#333" stroke-width="0.9"/><line x1="406.5" y1="1132.6" x2="393.5" y2="1140.5" stroke="#777" stroke-width="1.3"/><line x1="409.4" y1="870.5" x2="401.7" y2="868.0" stroke="#333" stroke-width="1.3"/><line x1="596.3" y1="1120.3" x2="604.2" y2="1127.0" stroke="#777" stroke-width="1.3"/><line x1="383.4" y1="927.6" x2="370.9" y2="923.9" stroke="#333" stroke-width="1.3"/><line x1="511.7" y1="1174.1" x2="510.3" y2="1192.7" stroke="#777" stroke-width="0.9"/><line x1="435.1" y1="1159.5" x2="430.3" y2="1166.9" stroke="#777" stroke-width="1.1"/><line x1="651.3" y1="1005.9" x2="662.2" y2="1011.3" stroke="#777" stroke-width="0.9"/><line x1="418.3" y1="857.0" x2="410.6" y2="851.3" stroke="#777" stroke-width="0.9"/><line x1="434.0" y1="837.2" x2="421.6" y2="828.9" stroke="#333" stroke-width="1.1"/><line x1="483.1" y1="1176.0" x2="481.9" y2="1193.8" stroke="#777" stroke-width="0.9"/><line x1="547.6" y1="1160.7" x2="554.5" y2="1177.8" stroke="#777" stroke-width="1.1"/><line x1="426.1" y1="1152.9" x2="420.7" y2="1160.8" stroke="#777" stroke-width="1.1"/><line x1="579.8" y1="1137.4" x2="588.5" y2="1145.1" stroke="#777" stroke-width="1.1"/><line x1="625.2" y1="834.0" x2="633.8" y2="830.6" stroke="#777" stroke-width="1.3"/><line x1="645.8" y1="1027.4" x2="661.7" y2="1029.6" stroke="#333" stroke-width="1.1"/><line x1="649.9" y1="1011.8" x2="664.2" y2="1013.9" stroke="#333" stroke-width="1.1"/><line x1="633.3" y1="847.0" x2="641.3" y2="839.4" stroke="#777" stroke-width="1.3"/><line x1="438.1" y1="1161.5" x2="431.2" y2="1178.3" stroke="#777" stroke-width="1.1"/><line x1="370.4" y1="1025.6" x2="359.0" y2="1024.5" stroke="#777" stroke-width="1.1"/><line x1="646.1" y1="876.3" x2="662.6" y2="872.2" stroke="#777" stroke-width="1.3"/><line x1="398.6" y1="890.2" x2="383.0" y2="887.3" stroke="#777" stroke-width="1.1"/><line x1="442.9" y1="827.9" x2="437.7" y2="819.9" stroke="#333" stroke-width="1.3"/><line x1="574.6" y1="1142.0" x2="584.0" y2="1151.2" stroke="#777" stroke-width="1.1"/><line x1="462.1" y1="1172.2" x2="456.1" y2="1187.1" stroke="#777" stroke-width="1.1"/><line x1="477.1" y1="801.6" x2="471.8" y2="791.6" stroke="#333" stroke-width="0.9"/><line x1="466.1" y1="808.6" x2="461.1" y2="801.3" stroke="#777" stroke-width="1.3"/><line x1="493.1" y1="1176.2" x2="488.1" y2="1193.4" stroke="#777" stroke-width="1.1"/><line x1="371.2" y1="1036.2" x2="357.6" y2="1039.6" stroke="#777" stroke-width="0.9"/><line x1="400.6" y1="1124.4" x2="393.9" y2="1130.4" stroke="#777" stroke-width="1.1"/><line x1="606.5" y1="812.4" x2="611.1" y2="803.4" stroke="#777" stroke-width="1.1"/><line x1="373.2" y1="1051.9" x2="359.9" y2="1055.2" stroke="#777" stroke-width="1.1"/><line x1="562.2" y1="787.8" x2="566.2" y2="774.9" stroke="#333" stroke-width="1.3"/><line x1="378.9" y1="943.4" x2="365.6" y2="936.6" stroke="#333" stroke-width="1.1"/><line x1="650.1" y1="889.7" x2="662.2" y2="887.6" stroke="#333" stroke-width="1.1"/><line x1="630.5" y1="842.1" x2="642.2" y2="829.1" stroke="#777" stroke-width="0.9"/>
<path d="M-5.0,-1.6 L-1.7,1.6 L1.7,-1.6 L5.0,1.6" transform="translate(644.3,1011.9) rotate(124)" fill="none" stroke="#b8b8b8" stroke-width="1.2"/><path d="M-4.0,-2.3 L-1.3,2.3 L1.3,-2.3 L4.0,2.3" transform="translate(639.5,1027.4) rotate(93)" fill="none" stroke="#707070" stroke-width="1.2"/><rect x="-4.9" y="-2.3" width="9.7" height="4.7" transform="translate(634.2,1045.4) rotate(123)" fill="#f9f9f9" stroke="#707070" stroke-width="1.1"/><path d="M-5.6,-2.9 L5.6,-2.9 L5.6,2.9 M-5.6,2.9 L0.0,2.9" transform="translate(628.5,1060.4) rotate(98)" fill="none" stroke="#949494" stroke-width="1.2"/><rect x="-4.4" y="-2.9" width="8.8" height="5.8" transform="translate(624.1,1070.9) rotate(103)" fill="#f9f9f9" stroke="#828282" stroke-width="1.1"/><path d="M-4.4,-2.2 L4.4,-2.2 L4.4,2.2 M-4.4,2.2 L0.0,2.2" transform="translate(618.2,1082.7) rotate(103)" fill="none" stroke="#949494" stroke-width="1.2"/><rect x="-4.2" y="-2.9" width="8.5" height="5.9" transform="translate(612.8,1092.5) rotate(115)" fill="#f9f9f9" stroke="#949494" stroke-width="1.1"/><path d="M-3.7,-1.8 L-1.2,1.8 L1.2,-1.8 L3.7,1.8" transform="translate(604.2,1106.9) rotate(136)" fill="none" stroke="#a6a6a6" stroke-width="1.2"/><rect x="-4.8" y="-2.5" width="9.5" height="5.0" transform="translate(598.8,1114.1) rotate(127)" fill="#f9f9f9" stroke="#828282" stroke-width="1.1"/><rect x="-5.0" y="-1.8" width="10.0" height="3.6" transform="translate(591.6,1123.9) rotate(119)" fill="#f9f9f9" stroke="#828282" stroke-width="1.1"/><path d="M-6.4,-2.3 L-2.1,2.3 L2.1,-2.3 L6.4,2.3" transform="translate(584.7,1131.8) rotate(132)" fill="none" stroke="#828282" stroke-width="1.2"/><rect x="-5.3" y="-3.1" width="10.6" height="6.2" transform="translate(577.6,1139.1) rotate(126)" fill="#f9f9f9" stroke="#707070" stroke-width="1.1"/><path d="M-3.7,-2.5 L3.7,-2.5 L3.7,2.5 M-3.7,2.5 L0.0,2.5" transform="translate(570.9,1145.1) rotate(130)" fill="none" stroke="#949494" stroke-width="1.2"/><rect x="-4.1" y="-3.6" width="8.1" height="7.3" transform="translate(558.4,1154.5) rotate(148)" fill="#f9f9f9" stroke="#a6a6a6" stroke-width="1.1"/><rect x="-4.5" y="-2.8" width="9.0" height="5.7" transform="translate(548.9,1160.1) rotate(156)" fill="#f9f9f9" stroke="#707070" stroke-width="1.1"/><rect x="-5.2" y="-4.0" width="10.4" height="8.1" transform="translate(539.4,1164.3) rotate(183)" fill="#f9f9f9" stroke="#a6a6a6" stroke-width="1.1"/><path d="M-3.6,-3.8 L3.6,-3.8 L3.6,3.8 M-3.6,3.8 L0.0,3.8" transform="translate(531.3,1167.0) rotate(169)" fill="none" stroke="#949494" stroke-width="1.2"/><path d="M-4.9,-4.5 L-1.6,4.5 L1.6,-4.5 L4.9,4.5" transform="translate(523.2,1168.3) rotate(188)" fill="none" stroke="#828282" stroke-width="1.2"/><rect x="-3.7" y="-5.2" width="7.4" height="10.4" transform="translate(516.4,1168.4) rotate(-194)" fill="#f9f9f9" stroke="#949494" stroke-width="1.1"/><rect x="-4.5" y="-5.6" width="9.0" height="11.3" transform="translate(504.3,1168.4) rotate(-174)" fill="#f9f9f9" stroke="#707070" stroke-width="1.1"/><rect x="-3.5" y="-5.6" width="7.0" height="11.1" transform="translate(499.7,1166.7) rotate(-172)" fill="#f9f9f9" stroke="#707070" stroke-width="1.1"/><path d="M-6.4,-5.4 L-2.1,5.4 L2.1,-5.4 L6.4,5.4" transform="translate(490.1,1163.8) rotate(-138)" fill="none" stroke="#949494" stroke-width="1.2"/><path d="M-3.5,-6.5 L-1.2,6.5 L1.2,-6.5 L3.5,6.5" transform="translate(485.9,1160.2) rotate(-151)" fill="none" stroke="#949494" stroke-width="1.2"/><rect x="-4.5" y="-6.0" width="8.9" height="12.0" transform="translate(474.6,1154.8) rotate(-151)" fill="#f9f9f9" stroke="#b8b8b8" stroke-width="1.1"/><path d="M-3.7,-5.6 L3.7,-5.6 L3.7,5.6 M-3.7,5.6 L0.0,5.6" transform="translate(465.9,1147.8) rotate(-148)" fill="none" stroke="#b8b8b8" stroke-width="1.2"/><rect x="-3.7" y="-6.4" width="7.4" height="12.9" transform="translate(463.0,1141.7) rotate(-149)" fill="#f9f9f9" stroke="#828282" stroke-width="1.1"/><path d="M-4.2,-6.1 L-1.4,6.1 L1.4,-6.1 L4.2,6.1" transform="translate(456.2,1135.4) rotate(-131)" fill="none" stroke="#b8b8b8" stroke-width="1.2"/><rect x="-5.8" y="-6.7" width="11.6" height="13.3" transform="translate(452.1,1126.6) rotate(-113)" fill="#f9f9f9" stroke="#949494" stroke-width="1.1"/><rect x="-4.1" y="-5.9" width="8.2" height="11.7" transform="translate(449.2,1118.5) rotate(-110)" fill="#f9f9f9" stroke="#828282" stroke-width="1.1"/><path d="M-3.7,-5.9 L3.7,-5.9 L3.7,5.9 M-3.7,5.9 L0.0,5.9" transform="translate(440.4,1107.7) rotate(-128)" fill="none" stroke="#828282" stroke-width="1.2"/><path d="M-6.5,-5.7 L-2.2,5.7 L2.2,-5.7 L6.5,5.7" transform="translate(437.8,1098.0) rotate(-105)" fill="none" stroke="#a6a6a6" stroke-width="1.2"/><rect x="-6.1" y="-5.8" width="12.3" height="11.7" transform="translate(438.1,1088.3) rotate(-113)" fill="#f9f9f9" stroke="#707070" stroke-width="1.1"/><path d="M-4.6,-6.8 L4.6,-6.8 L4.6,6.8 M-4.6,6.8 L0.0,6.8" transform="translate(434.7,1077.9) rotate(-87)" fill="none" stroke="#a6a6a6" stroke-width="1.2"/><rect x="-5.4" y="-6.6" width="10.8" height="13.1" transform="translate(431.4,1061.6) rotate(-120)" fill="#f9f9f9" stroke="#949494" stroke-width="1.1"/><path d="M-4.3,-6.4 L-1.4,6.4 L1.4,-6.4 L4.3,6.4" transform="translate(434.7,1046.8) rotate(-108)" fill="none" stroke="#828282" stroke-width="1.2"/><path d="M-5.4,-5.6 L5.4,-5.6 L5.4,5.6 M-5.4,5.6 L0.0,5.6" transform="translate(431.7,1033.8) rotate(-98)" fill="none" stroke="#707070" stroke-width="1.2"/><rect x="-4.7" y="-6.3" width="9.4" height="12.7" transform="translate(435.1,1017.8) rotate(-105)" fill="#f9f9f9" stroke="#b8b8b8" stroke-width="1.1"/><rect x="-4.3" y="-6.0" width="8.7" height="11.9" transform="translate(430.2,1002.2) rotate(-89)" fill="#f9f9f9" stroke="#707070" stroke-width="1.1"/><path d="M-6.1,-7.0 L6.1,-7.0 L6.1,7.0 M-6.1,7.0 L0.0,7.0" transform="translate(434.6,991.1) rotate(-86)" fill="none" stroke="#949494" stroke-width="1.2"/><path d="M-4.8,-5.7 L-1.6,5.7 L1.6,-5.7 L4.8,5.7" transform="translate(436.3,976.0) rotate(-62)" fill="none" stroke="#707070" stroke-width="1.2"/><rect x="-4.0" y="-5.5" width="8.0" height="11.0" transform="translate(434.5,961.6) rotate(-78)" fill="#f9f9f9" stroke="#b8b8b8" stroke-width="1.1"/><rect x="-6.3" y="-6.6" width="12.6" height="13.2" transform="translate(442.1,949.1) rotate(-71)" fill="#f9f9f9" stroke="#828282" stroke-width="1.1"/><rect x="-3.8" y="-6.2" width="7.7" height="12.5" transform="translate(445.7,932.4) rotate(-53)" fill="#f9f9f9" stroke="#828282" stroke-width="1.1"/><rect x="-4.4" y="-6.4" width="8.9" height="12.8" transform="translate(453.9,921.4) rotate(-50)" fill="#f9f9f9" stroke="#a6a6a6" stroke-width="1.1"/><rect x="-5.4" y="-6.8" width="10.8" height="13.6" transform="translate(454.4,904.1) rotate(-47)" fill="#f9f9f9" stroke="#b8b8b8" stroke-width="1.1"/><rect x="-4.2" y="-6.1" width="8.3" height="12.2" transform="translate(459.7,889.4) rotate(-72)" fill="#f9f9f9" stroke="#b8b8b8" stroke-width="1.1"/><path d="M-5.9,-5.8 L-2.0,5.8 L2.0,-5.8 L5.9,5.8" transform="translate(472.8,876.6) rotate(-36)" fill="none" stroke="#b8b8b8" stroke-width="1.2"/><path d="M-4.7,-6.2 L4.7,-6.2 L4.7,6.2 M-4.7,6.2 L0.0,6.2" transform="translate(474.9,864.8) rotate(-59)" fill="none" stroke="#949494" stroke-width="1.2"/><rect x="-4.6" y="-6.3" width="9.2" height="12.5" transform="translate(485.9,854.1) rotate(-52)" fill="#f9f9f9" stroke="#828282" stroke-width="1.1"/><path d="M-5.8,-6.7 L-1.9,6.7 L1.9,-6.7 L5.8,6.7" transform="translate(490.8,844.6) rotate(-55)" fill="none" stroke="#a6a6a6" stroke-width="1.2"/><path d="M-4.6,-6.0 L4.6,-6.0 L4.6,6.0 M-4.6,6.0 L0.0,6.0" transform="translate(499.8,835.1) rotate(-57)" fill="none" stroke="#a6a6a6" stroke-width="1.2"/><rect x="-6.3" y="-6.0" width="12.5" height="11.9" transform="translate(511.6,826.5) rotate(-49)" fill="#f9f9f9" stroke="#b8b8b8" stroke-width="1.1"/><path d="M-5.9,-5.5 L-2.0,5.5 L2.0,-5.5 L5.9,5.5" transform="translate(515.2,816.6) rotate(-23)" fill="none" stroke="#707070" stroke-width="1.2"/><path d="M-6.4,-5.9 L6.4,-5.9 L6.4,5.9 M-6.4,5.9 L0.0,5.9" transform="translate(525.5,810.1) rotate(-36)" fill="none" stroke="#828282" stroke-width="1.2"/><path d="M-5.3,-5.2 L-1.8,5.2 L1.8,-5.2 L5.3,5.2" transform="translate(538.5,806.2) rotate(-4)" fill="none" stroke="#949494" stroke-width="1.2"/><path d="M-5.0,-5.8 L5.0,-5.8 L5.0,5.8 M-5.0,5.8 L0.0,5.8" transform="translate(545.2,800.8) rotate(-26)" fill="none" stroke="#828282" stroke-width="1.2"/><path d="M-4.1,-4.7 L4.1,-4.7 L4.1,4.7 M-4.1,4.7 L0.0,4.7" transform="translate(555.4,800.0) rotate(-11)" fill="none" stroke="#949494" stroke-width="1.2"/><path d="M-3.8,-4.5 L-1.3,4.5 L1.3,-4.5 L3.8,4.5" transform="translate(564.6,798.7) rotate(12)" fill="none" stroke="#949494" stroke-width="1.2"/><path d="M-6.2,-3.6 L6.2,-3.6 L6.2,3.6 M-6.2,3.6 L0.0,3.6" transform="translate(573.4,797.8) rotate(15)" fill="none" stroke="#b8b8b8" stroke-width="1.2"/><rect x="-6.5" y="-3.8" width="12.9" height="7.5" transform="translate(580.5,798.3) rotate(4)" fill="#f9f9f9" stroke="#949494" stroke-width="1.1"/><rect x="-6.4" y="-3.0" width="12.7" height="6.0" transform="translate(589.6,801.5) rotate(24)" fill="#f9f9f9" stroke="#b8b8b8" stroke-width="1.1"/><path d="M-5.5,-2.8 L5.5,-2.8 L5.5,2.8 M-5.5,2.8 L0.0,2.8" transform="translate(593.6,802.5) rotate(28)" fill="none" stroke="#707070" stroke-width="1.2"/><rect x="-4.8" y="-2.5" width="9.5" height="4.9" transform="translate(603.2,808.2) rotate(36)" fill="#f9f9f9" stroke="#707070" stroke-width="1.1"/><path d="M-3.5,-2.2 L3.5,-2.2 L3.5,2.2 M-3.5,2.2 L0.0,2.2" transform="translate(608.4,812.0) rotate(17)" fill="none" stroke="#707070" stroke-width="1.2"/><rect x="-3.9" y="-2.0" width="7.8" height="4.1" transform="translate(614.5,817.5) rotate(33)" fill="#f9f9f9" stroke="#a6a6a6" stroke-width="1.1"/><path d="M-4.9,-1.6 L-1.6,1.6 L1.6,-1.6 L4.9,1.6" transform="translate(620.4,824.1) rotate(55)" fill="none" stroke="#828282" stroke-width="1.2"/><path d="M-3.5,-2.5 L-1.2,2.5 L1.2,-2.5 L3.5,2.5" transform="translate(625.1,830.2) rotate(41)" fill="none" stroke="#b8b8b8" stroke-width="1.2"/><rect x="-5.5" y="-1.8" width="10.9" height="3.6" transform="translate(651.4,961.1) rotate(99)" fill="#f9f9f9" stroke="#a6a6a6" stroke-width="1.1"/><rect x="-5.9" y="-1.8" width="11.9" height="3.5" transform="translate(650.0,979.0) rotate(104)" fill="#f9f9f9" stroke="#949494" stroke-width="1.1"/><path d="M-4.9,-2.3 L-1.6,2.3 L1.6,-2.3 L4.9,2.3" transform="translate(648.1,994.8) rotate(110)" fill="none" stroke="#a6a6a6" stroke-width="1.2"/><path d="M-4.2,-1.7 L4.2,-1.7 L4.2,1.7 M-4.2,1.7 L0.0,1.7" transform="translate(645.2,1018.6) rotate(104)" fill="none" stroke="#828282" stroke-width="1.2"/><rect x="-6.3" y="-1.9" width="12.7" height="3.8" transform="translate(640.8,1034.2) rotate(126)" fill="#f9f9f9" stroke="#707070" stroke-width="1.1"/><rect x="-5.1" y="-1.9" width="10.1" height="3.8" transform="translate(636.3,1045.9) rotate(124)" fill="#f9f9f9" stroke="#828282" stroke-width="1.1"/><path d="M-6.0,-1.8 L6.0,-1.8 L6.0,1.8 M-6.0,1.8 L0.0,1.8" transform="translate(630.2,1060.8) rotate(132)" fill="none" stroke="#828282" stroke-width="1.2"/><path d="M-4.2,-2.9 L4.2,-2.9 L4.2,2.9 M-4.2,2.9 L0.0,2.9" transform="translate(623.8,1076.2) rotate(113)" fill="none" stroke="#b8b8b8" stroke-width="1.2"/><path d="M-4.8,-2.6 L-1.6,2.6 L1.6,-2.6 L4.8,2.6" transform="translate(617.2,1088.4) rotate(137)" fill="none" stroke="#b8b8b8" stroke-width="1.2"/><rect x="-5.2" y="-1.8" width="10.4" height="3.5" transform="translate(608.0,1103.0) rotate(131)" fill="#f9f9f9" stroke="#707070" stroke-width="1.1"/><rect x="-3.9" y="-1.5" width="7.9" height="3.1" transform="translate(598.0,1117.6) rotate(126)" fill="#f9f9f9" stroke="#707070" stroke-width="1.1"/><rect x="-3.6" y="-2.8" width="7.3" height="5.6" transform="translate(591.6,1124.7) rotate(118)" fill="#f9f9f9" stroke="#949494" stroke-width="1.1"/><rect x="-6.1" y="-2.7" width="12.3" height="5.4" transform="translate(581.1,1136.3) rotate(147)" fill="#f9f9f9" stroke="#a6a6a6" stroke-width="1.1"/><path d="M-6.0,-3.1 L-2.0,3.1 L2.0,-3.1 L6.0,3.1" transform="translate(569.9,1146.3) rotate(128)" fill="none" stroke="#707070" stroke-width="1.2"/><rect x="-3.8" y="-3.2" width="7.6" height="6.4" transform="translate(561.2,1152.9) rotate(135)" fill="#f9f9f9" stroke="#828282" stroke-width="1.1"/><path d="M-6.3,-2.4 L-2.1,2.4 L2.1,-2.4 L6.3,2.4" transform="translate(550.5,1159.6) rotate(151)" fill="none" stroke="#949494" stroke-width="1.2"/><rect x="-4.4" y="-3.8" width="8.7" height="7.5" transform="translate(540.1,1164.8) rotate(161)" fill="#f9f9f9" stroke="#a6a6a6" stroke-width="1.1"/><path d="M-3.6,-3.8 L3.6,-3.8 L3.6,3.8 M-3.6,3.8 L0.0,3.8" transform="translate(530.0,1168.2) rotate(168)" fill="none" stroke="#707070" stroke-width="1.2"/><rect x="-4.4" y="-4.5" width="8.7" height="8.9" transform="translate(518.5,1171.0) rotate(176)" fill="#f9f9f9" stroke="#707070" stroke-width="1.1"/><path d="M-4.1,-4.4 L-1.4,4.4 L1.4,-4.4 L4.1,4.4" transform="translate(509.1,1172.0) rotate(-167)" fill="none" stroke="#949494" stroke-width="1.2"/><path d="M-5.9,-5.4 L5.9,-5.4 L5.9,5.4 M-5.9,5.4 L0.0,5.4" transform="translate(498.7,1171.8) rotate(-186)" fill="none" stroke="#828282" stroke-width="1.2"/><path d="M-5.9,-5.4 L5.9,-5.4 L5.9,5.4 M-5.9,5.4 L0.0,5.4" transform="translate(488.5,1170.2) rotate(-182)" fill="none" stroke="#707070" stroke-width="1.2"/><rect x="-6.2" y="-4.8" width="12.3" height="9.5" transform="translate(482.1,1167.6) rotate(-164)" fill="#f9f9f9" stroke="#707070" stroke-width="1.1"/><path d="M-4.0,-6.4 L-1.3,6.4 L1.3,-6.4 L4.0,6.4" transform="translate(473.4,1163.9) rotate(-152)" fill="none" stroke="#828282" stroke-width="1.2"/><rect x="-5.3" y="-5.3" width="10.6" height="10.7" transform="translate(464.5,1159.4) rotate(-140)" fill="#f9f9f9" stroke="#b8b8b8" stroke-width="1.1"/><path d="M-5.7,-5.8 L5.7,-5.8 L5.7,5.8 M-5.7,5.8 L0.0,5.8" transform="translate(456.0,1154.4) rotate(-136)" fill="none" stroke="#a6a6a6" stroke-width="1.2"/><rect x="-5.4" y="-6.5" width="10.9" height="13.1" transform="translate(453.5,1148.1) rotate(-144)" fill="#f9f9f9" stroke="#b8b8b8" stroke-width="1.1"/><path d="M-4.0,-5.7 L4.0,-5.7 L4.0,5.7 M-4.0,5.7 L0.0,5.7" transform="translate(443.6,1141.0) rotate(-118)" fill="none" stroke="#828282" stroke-width="1.2"/><rect x="-6.4" y="-5.9" width="12.7" height="11.8" transform="translate(440.0,1132.6) rotate(-138)" fill="#f9f9f9" stroke="#707070" stroke-width="1.1"/><rect x="-3.9" y="-6.0" width="7.9" height="11.9" transform="translate(434.6,1121.7) rotate(-135)" fill="#f9f9f9" stroke="#949494" stroke-width="1.1"/><rect x="-4.1" y="-6.1" width="8.2" height="12.2" transform="translate(425.1,1109.3) rotate(-132)" fill="#f9f9f9" stroke="#707070" stroke-width="1.1"/><rect x="-6.4" y="-5.9" width="12.9" height="11.9" transform="translate(422.7,1099.0) rotate(-123)" fill="#f9f9f9" stroke="#707070" stroke-width="1.1"/><path d="M-6.2,-6.1 L6.2,-6.1 L6.2,6.1 M-6.2,6.1 L0.0,6.1" transform="translate(418.3,1083.5) rotate(-97)" fill="none" stroke="#b8b8b8" stroke-width="1.2"/><path d="M-5.5,-6.8 L-1.8,6.8 L1.8,-6.8 L5.5,6.8" transform="translate(411.2,1068.5) rotate(-96)" fill="none" stroke="#b8b8b8" stroke-width="1.2"/><path d="M-4.4,-6.4 L-1.5,6.4 L1.5,-6.4 L4.4,6.4" transform="translate(410.6,1052.9) rotate(-100)" fill="none" stroke="#707070" stroke-width="1.2"/><path d="M-4.0,-6.8 L4.0,-6.8 L4.0,6.8 M-4.0,6.8 L0.0,6.8" transform="translate(411.4,1036.6) rotate(-85)" fill="none" stroke="#a6a6a6" stroke-width="1.2"/><path d="M-6.3,-5.8 L6.3,-5.8 L6.3,5.8 M-6.3,5.8 L0.0,5.8" transform="translate(411.0,1023.2) rotate(-84)" fill="none" stroke="#949494" stroke-width="1.2"/><path d="M-3.6,-6.3 L3.6,-6.3 L3.6,6.3 M-3.6,6.3 L0.0,6.3" transform="translate(410.8,1006.2) rotate(-68)" fill="none" stroke="#828282" stroke-width="1.2"/><path d="M-6.0,-6.2 L6.0,-6.2 L6.0,6.2 M-6.0,6.2 L0.0,6.2" transform="translate(414.7,991.7) rotate(-90)" fill="none" stroke="#828282" stroke-width="1.2"/><rect x="-5.1" y="-6.1" width="10.1" height="12.2" transform="translate(413.5,971.1) rotate(-66)" fill="#f9f9f9" stroke="#a6a6a6" stroke-width="1.1"/><path d="M-3.9,-7.0 L3.9,-7.0 L3.9,7.0 M-3.9,7.0 L0.0,7.0" transform="translate(419.0,955.5) rotate(-65)" fill="none" stroke="#949494" stroke-width="1.2"/><path d="M-3.7,-6.9 L3.7,-6.9 L3.7,6.9 M-3.7,6.9 L0.0,6.9" transform="translate(423.6,938.3) rotate(-90)" fill="none" stroke="#949494" stroke-width="1.2"/><path d="M-6.4,-7.0 L6.4,-7.0 L6.4,7.0 M-6.4,7.0 L0.0,7.0" transform="translate(428.5,925.0) rotate(-73)" fill="none" stroke="#a6a6a6" stroke-width="1.2"/><path d="M-5.9,-5.8 L5.9,-5.8 L5.9,5.8 M-5.9,5.8 L0.0,5.8" transform="translate(427.4,911.5) rotate(-84)" fill="none" stroke="#b8b8b8" stroke-width="1.2"/><path d="M-6.0,-6.7 L6.0,-6.7 L6.0,6.7 M-6.0,6.7 L0.0,6.7" transform="translate(439.2,901.2) rotate(-57)" fill="none" stroke="#a6a6a6" stroke-width="1.2"/><rect x="-6.0" y="-6.0" width="12.0" height="12.1" transform="translate(443.6,883.8) rotate(-74)" fill="#f9f9f9" stroke="#828282" stroke-width="1.1"/><rect x="-4.1" y="-5.5" width="8.1" height="11.0" transform="translate(452.7,872.6) rotate(-59)" fill="#f9f9f9" stroke="#949494" stroke-width="1.1"/><rect x="-5.4" y="-5.6" width="10.7" height="11.3" transform="translate(459.5,860.6) rotate(-53)" fill="#f9f9f9" stroke="#949494" stroke-width="1.1"/><path d="M-5.2,-6.0 L5.2,-6.0 L5.2,6.0 M-5.2,6.0 L0.0,6.0" transform="translate(468.2,847.7) rotate(-64)" fill="none" stroke="#828282" stroke-width="1.2"/><rect x="-4.1" y="-5.6" width="8.3" height="11.2" transform="translate(474.8,837.4) rotate(-37)" fill="#f9f9f9" stroke="#949494" stroke-width="1.1"/><rect x="-5.8" y="-6.0" width="11.7" height="12.0" transform="translate(486.4,829.5) rotate(-50)" fill="#f9f9f9" stroke="#828282" stroke-width="1.1"/><path d="M-5.6,-7.0 L5.6,-7.0 L5.6,7.0 M-5.6,7.0 L0.0,7.0" transform="translate(491.4,821.4) rotate(-31)" fill="none" stroke="#707070" stroke-width="1.2"/><rect x="-4.1" y="-6.5" width="8.2" height="13.1" transform="translate(499.2,813.2) rotate(-17)" fill="#f9f9f9" stroke="#b8b8b8" stroke-width="1.1"/><path d="M-3.9,-5.9 L3.9,-5.9 L3.9,5.9 M-3.9,5.9 L0.0,5.9" transform="translate(512.2,805.5) rotate(-40)" fill="none" stroke="#828282" stroke-width="1.2"/><path d="M-5.6,-5.2 L5.6,-5.2 L5.6,5.2 M-5.6,5.2 L0.0,5.2" transform="translate(525.3,799.9) rotate(-1)" fill="none" stroke="#828282" stroke-width="1.2"/><path d="M-4.9,-5.2 L-1.6,5.2 L1.6,-5.2 L4.9,5.2" transform="translate(538.3,797.3) rotate(2)" fill="none" stroke="#949494" stroke-width="1.2"/><rect x="-3.7" y="-4.9" width="7.5" height="9.8" transform="translate(548.5,793.7) rotate(15)" fill="#f9f9f9" stroke="#707070" stroke-width="1.1"/><path d="M-5.9,-3.7 L5.9,-3.7 L5.9,3.7 M-5.9,3.7 L0.0,3.7" transform="translate(556.8,792.2) rotate(22)" fill="none" stroke="#a6a6a6" stroke-width="1.2"/><rect x="-5.4" y="-3.8" width="10.8" height="7.5" transform="translate(567.1,794.0) rotate(16)" fill="#f9f9f9" stroke="#949494" stroke-width="1.1"/><path d="M-4.4,-3.3 L4.4,-3.3 L4.4,3.3 M-4.4,3.3 L0.0,3.3" transform="translate(577.1,795.0) rotate(32)" fill="none" stroke="#949494" stroke-width="1.2"/><path d="M-4.7,-3.1 L-1.6,3.1 L1.6,-3.1 L4.7,3.1" transform="translate(588.6,799.2) rotate(37)" fill="none" stroke="#949494" stroke-width="1.2"/><rect x="-3.9" y="-2.2" width="7.7" height="4.4" transform="translate(599.2,804.9) rotate(31)" fill="#f9f9f9" stroke="#949494" stroke-width="1.1"/><path d="M-4.7,-2.4 L4.7,-2.4 L4.7,2.4 M-4.7,2.4 L0.0,2.4" transform="translate(607.1,810.7) rotate(57)" fill="none" stroke="#a6a6a6" stroke-width="1.2"/><path d="M-4.1,-2.9 L4.1,-2.9 L4.1,2.9 M-4.1,2.9 L0.0,2.9" transform="translate(616.5,819.7) rotate(25)" fill="none" stroke="#b8b8b8" stroke-width="1.2"/><path d="M-4.6,-1.7 L-1.5,1.7 L1.5,-1.7 L4.6,1.7" transform="translate(621.8,826.0) rotate(51)" fill="none" stroke="#b8b8b8" stroke-width="1.2"/><path d="M-5.4,-1.8 L-1.8,1.8 L1.8,-1.8 L5.4,1.8" transform="translate(627.4,833.9) rotate(59)" fill="none" stroke="#828282" stroke-width="1.2"/><path d="M-5.2,-2.4 L5.2,-2.4 L5.2,2.4 M-5.2,2.4 L0.0,2.4" transform="translate(653.3,966.6) rotate(76)" fill="none" stroke="#707070" stroke-width="1.2"/><rect x="-4.8" y="-2.5" width="9.5" height="5.1" transform="translate(652.7,980.6) rotate(109)" fill="#f9f9f9" stroke="#a6a6a6" stroke-width="1.1"/><path d="M-6.3,-3.0 L6.3,-3.0 L6.3,3.0 M-6.3,3.0 L0.0,3.0" transform="translate(649.7,996.5) rotate(105)" fill="none" stroke="#a6a6a6" stroke-width="1.2"/><rect x="-6.2" y="-2.4" width="12.4" height="4.9" transform="translate(646.9,1008.1) rotate(103)" fill="#f9f9f9" stroke="#a6a6a6" stroke-width="1.1"/><rect x="-6.1" y="-1.7" width="12.2" height="3.4" transform="translate(647.5,1020.8) rotate(89)" fill="#f9f9f9" stroke="#707070" stroke-width="1.1"/><path d="M-6.3,-2.0 L6.3,-2.0 L6.3,2.0 M-6.3,2.0 L0.0,2.0" transform="translate(643.7,1031.7) rotate(118)" fill="none" stroke="#828282" stroke-width="1.2"/><path d="M-4.9,-2.9 L-1.6,2.9 L1.6,-2.9 L4.9,2.9" transform="translate(638.8,1046.8) rotate(120)" fill="none" stroke="#949494" stroke-width="1.2"/><rect x="-6.1" y="-2.5" width="12.3" height="5.1" transform="translate(634.2,1056.7) rotate(97)" fill="#f9f9f9" stroke="#b8b8b8" stroke-width="1.1"/><rect x="-6.1" y="-2.2" width="12.2" height="4.5" transform="translate(630.0,1068.0) rotate(103)" fill="#f9f9f9" stroke="#707070" stroke-width="1.1"/><rect x="-4.0" y="-2.9" width="8.0" height="5.9" transform="translate(624.1,1079.8) rotate(118)" fill="#f9f9f9" stroke="#707070" stroke-width="1.1"/><path d="M-4.7,-2.7 L4.7,-2.7 L4.7,2.7 M-4.7,2.7 L0.0,2.7" transform="translate(615.0,1095.4) rotate(121)" fill="none" stroke="#949494" stroke-width="1.2"/><rect x="-6.4" y="-2.6" width="12.8" height="5.1" transform="translate(606.6,1107.6) rotate(110)" fill="#f9f9f9" stroke="#b8b8b8" stroke-width="1.1"/><path d="M-5.3,-2.0 L-1.8,2.0 L1.8,-2.0 L5.3,2.0" transform="translate(597.5,1120.2) rotate(145)" fill="none" stroke="#a6a6a6" stroke-width="1.2"/><rect x="-5.8" y="-1.9" width="11.6" height="3.7" transform="translate(588.6,1129.8) rotate(131)" fill="#f9f9f9" stroke="#a6a6a6" stroke-width="1.1"/><rect x="-5.3" y="-2.7" width="10.5" height="5.5" transform="translate(580.8,1137.5) rotate(136)" fill="#f9f9f9" stroke="#707070" stroke-width="1.1"/><path d="M-3.9,-3.1 L3.9,-3.1 L3.9,3.1 M-3.9,3.1 L0.0,3.1" transform="translate(573.1,1144.8) rotate(162)" fill="none" stroke="#b8b8b8" stroke-width="1.2"/><path d="M-5.2,-3.0 L5.2,-3.0 L5.2,3.0 M-5.2,3.0 L0.0,3.0" transform="translate(566.2,1150.0) rotate(130)" fill="none" stroke="#828282" stroke-width="1.2"/><path d="M-3.7,-2.7 L-1.2,2.7 L1.2,-2.7 L3.7,2.7" transform="translate(552.5,1159.4) rotate(144)" fill="none" stroke="#828282" stroke-width="1.2"/><path d="M-5.1,-3.2 L5.1,-3.2 L5.1,3.2 M-5.1,3.2 L0.0,3.2" transform="translate(543.4,1163.9) rotate(153)" fill="none" stroke="#949494" stroke-width="1.2"/><path d="M-6.2,-3.5 L6.2,-3.5 L6.2,3.5 M-6.2,3.5 L0.0,3.5" transform="translate(531.0,1169.3) rotate(179)" fill="none" stroke="#a6a6a6" stroke-width="1.2"/><path d="M-5.9,-3.4 L5.9,-3.4 L5.9,3.4 M-5.9,3.4 L0.0,3.4" transform="translate(523.4,1171.4) rotate(152)" fill="none" stroke="#b8b8b8" stroke-width="1.2"/><path d="M-3.6,-4.7 L-1.2,4.7 L1.2,-4.7 L3.6,4.7" transform="translate(513.7,1173.8) rotate(159)" fill="none" stroke="#949494" stroke-width="1.2"/><path d="M-4.4,-3.5 L4.4,-3.5 L4.4,3.5 M-4.4,3.5 L0.0,3.5" transform="translate(504.2,1174.8) rotate(162)" fill="none" stroke="#949494" stroke-width="1.2"/><rect x="-6.1" y="-4.5" width="12.2" height="9.1" transform="translate(496.7,1174.4) rotate(-156)" fill="#f9f9f9" stroke="#b8b8b8" stroke-width="1.1"/><path d="M-4.8,-4.9 L-1.6,4.9 L1.6,-4.9 L4.8,4.9" transform="translate(488.2,1174.1) rotate(-187)" fill="none" stroke="#b8b8b8" stroke-width="1.2"/><rect x="-4.0" y="-4.6" width="8.1" height="9.1" transform="translate(477.4,1171.4) rotate(-175)" fill="#f9f9f9" stroke="#707070" stroke-width="1.1"/><path d="M-6.0,-6.1 L6.0,-6.1 L6.0,6.1 M-6.0,6.1 L0.0,6.1" transform="translate(465.6,1169.3) rotate(-159)" fill="none" stroke="#b8b8b8" stroke-width="1.2"/><path d="M-4.5,-5.4 L-1.5,5.4 L1.5,-5.4 L4.5,5.4" transform="translate(456.9,1165.3) rotate(-169)" fill="none" stroke="#707070" stroke-width="1.2"/><rect x="-4.0" y="-6.9" width="8.0" height="13.7" transform="translate(447.9,1158.4) rotate(-147)" fill="#f9f9f9" stroke="#828282" stroke-width="1.1"/><rect x="-5.2" y="-5.5" width="10.3" height="11.1" transform="translate(435.2,1151.4) rotate(-156)" fill="#f9f9f9" stroke="#707070" stroke-width="1.1"/><path d="M-5.0,-5.7 L5.0,-5.7 L5.0,5.7 M-5.0,5.7 L0.0,5.7" transform="translate(426.9,1141.4) rotate(-121)" fill="none" stroke="#949494" stroke-width="1.2"/><path d="M-5.3,-6.6 L5.3,-6.6 L5.3,6.6 M-5.3,6.6 L0.0,6.6" transform="translate(420.2,1132.3) rotate(-135)" fill="none" stroke="#707070" stroke-width="1.2"/><path d="M-4.6,-6.2 L-1.5,6.2 L1.5,-6.2 L4.6,6.2" transform="translate(414.4,1119.9) rotate(-126)" fill="none" stroke="#828282" stroke-width="1.2"/><rect x="-5.9" y="-5.7" width="11.8" height="11.5" transform="translate(408.6,1109.8) rotate(-100)" fill="#f9f9f9" stroke="#828282" stroke-width="1.1"/><path d="M-5.8,-6.9 L-1.9,6.9 L1.9,-6.9 L5.8,6.9" transform="translate(403.4,1095.5) rotate(-101)" fill="none" stroke="#a6a6a6" stroke-width="1.2"/><rect x="-6.0" y="-6.2" width="11.9" height="12.4" transform="translate(398.5,1082.1) rotate(-113)" fill="#f9f9f9" stroke="#949494" stroke-width="1.1"/><rect x="-5.2" y="-5.7" width="10.3" height="11.4" transform="translate(398.5,1068.3) rotate(-94)" fill="#f9f9f9" stroke="#828282" stroke-width="1.1"/><rect x="-6.0" y="-6.0" width="12.0" height="12.0" transform="translate(395.5,1056.8) rotate(-109)" fill="#f9f9f9" stroke="#828282" stroke-width="1.1"/><path d="M-4.0,-6.3 L4.0,-6.3 L4.0,6.3 M-4.0,6.3 L0.0,6.3" transform="translate(391.2,1043.1) rotate(-97)" fill="none" stroke="#828282" stroke-width="1.2"/><path d="M-6.4,-6.1 L-2.1,6.1 L2.1,-6.1 L6.4,6.1" transform="translate(393.4,1032.3) rotate(-83)" fill="none" stroke="#949494" stroke-width="1.2"/><rect x="-6.2" y="-5.6" width="12.4" height="11.2" transform="translate(393.2,1015.0) rotate(-98)" fill="#f9f9f9" stroke="#949494" stroke-width="1.1"/><rect x="-5.0" y="-6.2" width="10.1" height="12.3" transform="translate(390.9,996.0) rotate(-85)" fill="#f9f9f9" stroke="#b8b8b8" stroke-width="1.1"/><path d="M-4.3,-5.8 L4.3,-5.8 L4.3,5.8 M-4.3,5.8 L0.0,5.8" transform="translate(396.3,980.5) rotate(-86)" fill="none" stroke="#828282" stroke-width="1.2"/><path d="M-6.0,-6.8 L6.0,-6.8 L6.0,6.8 M-6.0,6.8 L0.0,6.8" transform="translate(397.3,966.5) rotate(-75)" fill="none" stroke="#a6a6a6" stroke-width="1.2"/><rect x="-5.4" y="-5.8" width="10.8" height="11.6" transform="translate(400.2,953.9) rotate(-70)" fill="#f9f9f9" stroke="#949494" stroke-width="1.1"/><rect x="-5.7" y="-5.6" width="11.3" height="11.2" transform="translate(397.8,940.6) rotate(-77)" fill="#f9f9f9" stroke="#949494" stroke-width="1.1"/><rect x="-3.5" y="-6.9" width="7.1" height="13.7" transform="translate(399.9,929.3) rotate(-72)" fill="#f9f9f9" stroke="#a6a6a6" stroke-width="1.1"/><path d="M-6.5,-5.6 L6.5,-5.6 L6.5,5.6 M-6.5,5.6 L0.0,5.6" transform="translate(411.3,913.6) rotate(-65)" fill="none" stroke="#949494" stroke-width="1.2"/><path d="M-6.4,-5.6 L6.4,-5.6 L6.4,5.6 M-6.4,5.6 L0.0,5.6" transform="translate(416.7,898.2) rotate(-47)" fill="none" stroke="#949494" stroke-width="1.2"/><rect x="-5.6" y="-6.1" width="11.3" height="12.1" transform="translate(420.2,881.1) rotate(-67)" fill="#f9f9f9" stroke="#707070" stroke-width="1.1"/><rect x="-3.6" y="-6.7" width="7.2" height="13.4" transform="translate(430.0,866.6) rotate(-58)" fill="#f9f9f9" stroke="#828282" stroke-width="1.1"/><rect x="-3.8" y="-5.9" width="7.6" height="11.8" transform="translate(440.1,858.7) rotate(-66)" fill="#f9f9f9" stroke="#707070" stroke-width="1.1"/><path d="M-6.0,-6.5 L6.0,-6.5 L6.0,6.5 M-6.0,6.5 L0.0,6.5" transform="translate(446.6,843.3) rotate(-58)" fill="none" stroke="#a6a6a6" stroke-width="1.2"/><path d="M-5.7,-5.6 L5.7,-5.6 L5.7,5.6 M-5.7,5.6 L0.0,5.6" transform="translate(462.3,832.5) rotate(-29)" fill="none" stroke="#707070" stroke-width="1.2"/><path d="M-3.9,-6.8 L3.9,-6.8 L3.9,6.8 M-3.9,6.8 L0.0,6.8" transform="translate(468.0,820.8) rotate(-54)" fill="none" stroke="#b8b8b8" stroke-width="1.2"/><path d="M-5.7,-5.7 L-1.9,5.7 L1.9,-5.7 L5.7,5.7" transform="translate(482.2,814.0) rotate(-31)" fill="none" stroke="#707070" stroke-width="1.2"/><path d="M-5.1,-6.1 L5.1,-6.1 L5.1,6.1 M-5.1,6.1 L0.0,6.1" transform="translate(492.4,805.1) rotate(-15)" fill="none" stroke="#707070" stroke-width="1.2"/><path d="M-4.8,-6.7 L-1.6,6.7 L1.6,-6.7 L4.8,6.7" transform="translate(503.0,800.2) rotate(-30)" fill="none" stroke="#949494" stroke-width="1.2"/><path d="M-6.4,-6.3 L-2.1,6.3 L2.1,-6.3 L6.4,6.3" transform="translate(513.2,796.4) rotate(-18)" fill="none" stroke="#828282" stroke-width="1.2"/><path d="M-4.1,-5.0 L4.1,-5.0 L4.1,5.0 M-4.1,5.0 L0.0,5.0" transform="translate(525.6,792.3) rotate(-28)" fill="none" stroke="#828282" stroke-width="1.2"/><path d="M-5.8,-5.5 L-1.9,5.5 L1.9,-5.5 L5.8,5.5" transform="translate(536.2,789.6) rotate(13)" fill="none" stroke="#707070" stroke-width="1.2"/><rect x="-5.4" y="-4.2" width="10.8" height="8.4" transform="translate(540.6,787.1) rotate(-20)" fill="#f9f9f9" stroke="#b8b8b8" stroke-width="1.1"/><rect x="-4.3" y="-4.2" width="8.5" height="8.3" transform="translate(553.0,787.1) rotate(11)" fill="#f9f9f9" stroke="#a6a6a6" stroke-width="1.1"/><path d="M-4.0,-3.1 L-1.3,3.1 L1.3,-3.1 L4.0,3.1" transform="translate(566.0,790.1) rotate(6)" fill="none" stroke="#b8b8b8" stroke-width="1.2"/><path d="M-4.8,-3.5 L-1.6,3.5 L1.6,-3.5 L4.8,3.5" transform="translate(571.8,790.9) rotate(34)" fill="none" stroke="#949494" stroke-width="1.2"/><path d="M-5.7,-2.9 L5.7,-2.9 L5.7,2.9 M-5.7,2.9 L0.0,2.9" transform="translate(580.0,794.0) rotate(31)" fill="none" stroke="#a6a6a6" stroke-width="1.2"/><rect x="-5.6" y="-2.8" width="11.3" height="5.6" transform="translate(588.7,797.7) rotate(16)" fill="#f9f9f9" stroke="#b8b8b8" stroke-width="1.1"/><rect x="-4.5" y="-2.0" width="9.0" height="4.0" transform="translate(597.6,803.1) rotate(16)" fill="#f9f9f9" stroke="#b8b8b8" stroke-width="1.1"/><rect x="-6.1" y="-1.9" width="12.2" height="3.7" transform="translate(607.2,810.6) rotate(34)" fill="#f9f9f9" stroke="#b8b8b8" stroke-width="1.1"/><rect x="-3.7" y="-1.5" width="7.3" height="3.1" transform="translate(614.3,817.4) rotate(34)" fill="#f9f9f9" stroke="#b8b8b8" stroke-width="1.1"/><path d="M-4.7,-2.2 L4.7,-2.2 L4.7,2.2 M-4.7,2.2 L0.0,2.2" transform="translate(621.2,825.3) rotate(33)" fill="none" stroke="#707070" stroke-width="1.2"/><rect x="-6.5" y="-1.9" width="13.0" height="3.8" transform="translate(655.9,974.9) rotate(113)" fill="#f9f9f9" stroke="#828282" stroke-width="1.1"/><rect x="-3.9" y="-2.1" width="7.7" height="4.2" transform="translate(654.0,986.2) rotate(101)" fill="#f9f9f9" stroke="#b8b8b8" stroke-width="1.1"/><rect x="-3.8" y="-2.8" width="7.7" height="5.6" transform="translate(651.9,997.7) rotate(106)" fill="#f9f9f9" stroke="#a6a6a6" stroke-width="1.1"/><rect x="-5.4" y="-1.5" width="10.9" height="3.0" transform="translate(649.7,1017.8) rotate(109)" fill="#f9f9f9" stroke="#a6a6a6" stroke-width="1.1"/><rect x="-4.8" y="-2.1" width="9.6" height="4.1" transform="translate(645.0,1034.1) rotate(121)" fill="#f9f9f9" stroke="#828282" stroke-width="1.1"/><path d="M-6.0,-2.9 L-2.0,2.9 L2.0,-2.9 L6.0,2.9" transform="translate(639.4,1049.3) rotate(126)" fill="none" stroke="#828282" stroke-width="1.2"/><path d="M-4.3,-2.8 L-1.4,2.8 L1.4,-2.8 L4.3,2.8" transform="translate(631.1,1070.0) rotate(97)" fill="none" stroke="#949494" stroke-width="1.2"/><rect x="-5.1" y="-2.3" width="10.1" height="4.6" transform="translate(621.1,1087.9) rotate(141)" fill="#f9f9f9" stroke="#a6a6a6" stroke-width="1.1"/><rect x="-6.3" y="-2.5" width="12.7" height="5.0" transform="translate(610.5,1104.5) rotate(120)" fill="#f9f9f9" stroke="#b8b8b8" stroke-width="1.1"/><path d="M-6.3,-1.7 L-2.1,1.7 L2.1,-1.7 L6.3,1.7" transform="translate(601.1,1116.9) rotate(136)" fill="none" stroke="#828282" stroke-width="1.2"/><path d="M-6.5,-2.0 L6.5,-2.0 L6.5,2.0 M-6.5,2.0 L0.0,2.0" transform="translate(590.8,1128.7) rotate(139)" fill="none" stroke="#b8b8b8" stroke-width="1.2"/><rect x="-3.7" y="-2.0" width="7.5" height="3.9" transform="translate(579.6,1139.7) rotate(134)" fill="#f9f9f9" stroke="#828282" stroke-width="1.1"/><path d="M-6.5,-3.0 L6.5,-3.0 L6.5,3.0 M-6.5,3.0 L0.0,3.0" transform="translate(569.6,1148.4) rotate(156)" fill="none" stroke="#a6a6a6" stroke-width="1.2"/><path d="M-6.2,-2.6 L6.2,-2.6 L6.2,2.6 M-6.2,2.6 L0.0,2.6" transform="translate(554.6,1158.8) rotate(138)" fill="none" stroke="#707070" stroke-width="1.2"/><rect x="-5.4" y="-2.3" width="10.8" height="4.7" transform="translate(542.8,1165.1) rotate(175)" fill="#f9f9f9" stroke="#a6a6a6" stroke-width="1.1"/><path d="M-6.3,-3.2 L6.3,-3.2 L6.3,3.2 M-6.3,3.2 L0.0,3.2" transform="translate(528.2,1171.3) rotate(164)" fill="none" stroke="#707070" stroke-width="1.2"/><path d="M-5.2,-3.3 L5.2,-3.3 L5.2,3.3 M-5.2,3.3 L0.0,3.3" transform="translate(519.9,1173.5) rotate(167)" fill="none" stroke="#b8b8b8" stroke-width="1.2"/><rect x="-3.9" y="-4.1" width="7.9" height="8.1" transform="translate(506.0,1176.2) rotate(178)" fill="#f9f9f9" stroke="#b8b8b8" stroke-width="1.1"/><path d="M-6.0,-4.5 L6.0,-4.5 L6.0,4.5 M-6.0,4.5 L0.0,4.5" transform="translate(495.5,1176.9) rotate(-179)" fill="none" stroke="#707070" stroke-width="1.2"/><rect x="-4.2" y="-4.3" width="8.4" height="8.6" transform="translate(483.4,1177.0) rotate(-188)" fill="#f9f9f9" stroke="#707070" stroke-width="1.1"/><rect x="-4.5" y="-5.0" width="9.1" height="10.0" transform="translate(468.1,1175.2) rotate(-163)" fill="#f9f9f9" stroke="#a6a6a6" stroke-width="1.1"/><rect x="-3.6" y="-4.7" width="7.3" height="9.4" transform="translate(460.9,1171.7) rotate(-149)" fill="#f9f9f9" stroke="#828282" stroke-width="1.1"/><rect x="-4.4" y="-6.3" width="8.9" height="12.6" transform="translate(447.6,1167.9) rotate(-139)" fill="#f9f9f9" stroke="#a6a6a6" stroke-width="1.1"/><path d="M-6.3,-5.6 L6.3,-5.6 L6.3,5.6 M-6.3,5.6 L0.0,5.6" transform="translate(438.4,1163.0) rotate(-148)" fill="none" stroke="#a6a6a6" stroke-width="1.2"/><rect x="-5.6" y="-5.5" width="11.3" height="11.1" transform="translate(430.6,1154.6) rotate(-145)" fill="#f9f9f9" stroke="#828282" stroke-width="1.1"/><rect x="-6.1" y="-6.1" width="12.3" height="12.2" transform="translate(420.5,1145.1) rotate(-154)" fill="#f9f9f9" stroke="#949494" stroke-width="1.1"/><path d="M-3.7,-5.7 L3.7,-5.7 L3.7,5.7 M-3.7,5.7 L0.0,5.7" transform="translate(412.7,1136.3) rotate(-132)" fill="none" stroke="#949494" stroke-width="1.2"/><rect x="-4.8" y="-5.9" width="9.6" height="11.8" transform="translate(403.6,1124.5) rotate(-129)" fill="#f9f9f9" stroke="#707070" stroke-width="1.1"/><path d="M-4.3,-6.8 L4.3,-6.8 L4.3,6.8 M-4.3,6.8 L0.0,6.8" transform="translate(394.7,1112.3) rotate(-134)" fill="none" stroke="#828282" stroke-width="1.2"/><rect x="-4.6" y="-5.8" width="9.2" height="11.6" transform="translate(388.4,1100.6) rotate(-124)" fill="#f9f9f9" stroke="#a6a6a6" stroke-width="1.1"/><path d="M-5.0,-5.8 L5.0,-5.8 L5.0,5.8 M-5.0,5.8 L0.0,5.8" transform="translate(387.8,1086.4) rotate(-90)" fill="none" stroke="#a6a6a6" stroke-width="1.2"/><rect x="-4.8" y="-7.0" width="9.6" height="14.0" transform="translate(375.6,1066.7) rotate(-99)" fill="#f9f9f9" stroke="#b8b8b8" stroke-width="1.1"/><path d="M-3.9,-6.3 L-1.3,6.3 L1.3,-6.3 L3.9,6.3" transform="translate(379.0,1047.3) rotate(-83)" fill="none" stroke="#b8b8b8" stroke-width="1.2"/><rect x="-5.7" y="-5.7" width="11.3" height="11.4" transform="translate(372.2,1028.6) rotate(-112)" fill="#f9f9f9" stroke="#707070" stroke-width="1.1"/><rect x="-4.5" y="-6.5" width="8.9" height="13.0" transform="translate(377.2,1009.7) rotate(-75)" fill="#f9f9f9" stroke="#707070" stroke-width="1.1"/><rect x="-4.1" y="-6.6" width="8.2" height="13.2" transform="translate(372.0,994.4) rotate(-75)" fill="#f9f9f9" stroke="#707070" stroke-width="1.1"/><path d="M-4.7,-6.9 L-1.6,6.9 L1.6,-6.9 L4.7,6.9" transform="translate(375.2,972.9) rotate(-90)" fill="none" stroke="#828282" stroke-width="1.2"/><path d="M-5.6,-6.8 L5.6,-6.8 L5.6,6.8 M-5.6,6.8 L0.0,6.8" transform="translate(381.0,958.8) rotate(-66)" fill="none" stroke="#707070" stroke-width="1.2"/><rect x="-4.6" y="-6.4" width="9.1" height="12.9" transform="translate(385.5,944.0) rotate(-61)" fill="#f9f9f9" stroke="#828282" stroke-width="1.1"/><rect x="-5.5" y="-6.1" width="11.1" height="12.2" transform="translate(387.9,924.1) rotate(-82)" fill="#f9f9f9" stroke="#b8b8b8" stroke-width="1.1"/><path d="M-3.6,-6.0 L3.6,-6.0 L3.6,6.0 M-3.6,6.0 L0.0,6.0" transform="translate(396.2,909.6) rotate(-72)" fill="none" stroke="#828282" stroke-width="1.2"/><rect x="-6.3" y="-6.5" width="12.6" height="13.0" transform="translate(400.6,895.0) rotate(-63)" fill="#f9f9f9" stroke="#b8b8b8" stroke-width="1.1"/><path d="M-4.4,-5.6 L4.4,-5.6 L4.4,5.6 M-4.4,5.6 L0.0,5.6" transform="translate(404.7,880.4) rotate(-50)" fill="none" stroke="#b8b8b8" stroke-width="1.2"/><path d="M-5.9,-5.8 L5.9,-5.8 L5.9,5.8 M-5.9,5.8 L0.0,5.8" transform="translate(416.2,870.2) rotate(-73)" fill="none" stroke="#949494" stroke-width="1.2"/><path d="M-5.7,-6.7 L5.7,-6.7 L5.7,6.7 M-5.7,6.7 L0.0,6.7" transform="translate(419.9,857.7) rotate(-59)" fill="none" stroke="#949494" stroke-width="1.2"/><path d="M-4.5,-6.3 L4.5,-6.3 L4.5,6.3 M-4.5,6.3 L0.0,6.3" transform="translate(426.1,846.1) rotate(-53)" fill="none" stroke="#a6a6a6" stroke-width="1.2"/><path d="M-6.0,-6.7 L6.0,-6.7 L6.0,6.7 M-6.0,6.7 L0.0,6.7" transform="translate(441.6,836.2) rotate(-40)" fill="none" stroke="#a6a6a6" stroke-width="1.2"/><path d="M-4.3,-6.3 L4.3,-6.3 L4.3,6.3 M-4.3,6.3 L0.0,6.3" transform="translate(450.2,822.5) rotate(-30)" fill="none" stroke="#828282" stroke-width="1.2"/><rect x="-4.7" y="-5.8" width="9.5" height="11.6" transform="translate(463.9,816.2) rotate(-44)" fill="#f9f9f9" stroke="#949494" stroke-width="1.1"/><rect x="-5.6" y="-5.5" width="11.2" height="11.0" transform="translate(471.7,807.0) rotate(-34)" fill="#f9f9f9" stroke="#a6a6a6" stroke-width="1.1"/><rect x="-5.6" y="-6.3" width="11.2" height="12.6" transform="translate(484.2,798.2) rotate(-42)" fill="#f9f9f9" stroke="#828282" stroke-width="1.1"/><path d="M-4.0,-6.0 L-1.3,6.0 L1.3,-6.0 L4.0,6.0" transform="translate(498.8,792.2) rotate(-10)" fill="none" stroke="#b8b8b8" stroke-width="1.2"/><rect x="-5.6" y="-4.5" width="11.1" height="9.0" transform="translate(514.4,787.6) rotate(-25)" fill="#f9f9f9" stroke="#a6a6a6" stroke-width="1.1"/><rect x="-5.6" y="-4.7" width="11.2" height="9.4" transform="translate(530.1,785.2) rotate(-17)" fill="#f9f9f9" stroke="#707070" stroke-width="1.1"/><path d="M-5.2,-3.7 L-1.7,3.7 L1.7,-3.7 L5.2,3.7" transform="translate(539.1,783.9) rotate(-8)" fill="none" stroke="#a6a6a6" stroke-width="1.2"/><path d="M-6.4,-4.1 L6.4,-4.1 L6.4,4.1 M-6.4,4.1 L0.0,4.1" transform="translate(553.2,785.6) rotate(16)" fill="none" stroke="#707070" stroke-width="1.2"/><path d="M-4.5,-3.3 L4.5,-3.3 L4.5,3.3 M-4.5,3.3 L0.0,3.3" transform="translate(565.7,787.4) rotate(27)" fill="none" stroke="#707070" stroke-width="1.2"/><path d="M-4.3,-2.6 L4.3,-2.6 L4.3,2.6 M-4.3,2.6 L0.0,2.6" transform="translate(579.2,791.9) rotate(31)" fill="none" stroke="#828282" stroke-width="1.2"/><path d="M-4.6,-3.3 L-1.5,3.3 L1.5,-3.3 L4.6,3.3" transform="translate(592.5,799.3) rotate(18)" fill="none" stroke="#b8b8b8" stroke-width="1.2"/><rect x="-6.0" y="-2.6" width="12.0" height="5.3" transform="translate(601.2,805.4) rotate(49)" fill="#f9f9f9" stroke="#949494" stroke-width="1.1"/><rect x="-3.9" y="-2.9" width="7.8" height="5.8" transform="translate(612.9,815.9) rotate(35)" fill="#f9f9f9" stroke="#949494" stroke-width="1.1"/><path d="M-6.0,-2.6 L-2.0,2.6 L2.0,-2.6 L6.0,2.6" transform="translate(622.5,826.9) rotate(58)" fill="none" stroke="#707070" stroke-width="1.2"/><rect x="-4.4" y="-2.4" width="8.8" height="4.7" transform="translate(629.0,836.1) rotate(43)" fill="#f9f9f9" stroke="#707070" stroke-width="1.1"/><path d="M-4.7,-3.0 L4.7,-3.0 L4.7,3.0 M-4.7,3.0 L0.0,3.0" transform="translate(636.6,849.2) rotate(68)" fill="none" stroke="#a6a6a6" stroke-width="1.2"/><rect x="-5.3" y="-2.8" width="10.7" height="5.5" transform="translate(642.2,861.0) rotate(48)" fill="#f9f9f9" stroke="#b8b8b8" stroke-width="1.1"/><rect x="-4.8" y="-2.0" width="9.5" height="4.0" transform="translate(647.1,873.6) rotate(72)" fill="#f9f9f9" stroke="#a6a6a6" stroke-width="1.1"/><path d="M-4.6,-1.5 L4.6,-1.5 L4.6,1.5 M-4.6,1.5 L0.0,1.5" transform="translate(651.1,887.7) rotate(84)" fill="none" stroke="#b8b8b8" stroke-width="1.2"/><path d="M-5.1,-2.1 L-1.7,2.1 L1.7,-2.1 L5.1,2.1" transform="translate(655.5,907.5) rotate(82)" fill="none" stroke="#b8b8b8" stroke-width="1.2"/><path d="M-5.4,-2.7 L5.4,-2.7 L5.4,2.7 M-5.4,2.7 L0.0,2.7" transform="translate(658.1,925.2) rotate(104)" fill="none" stroke="#707070" stroke-width="1.2"/><rect x="-4.8" y="-2.1" width="9.5" height="4.1" transform="translate(658.9,945.7) rotate(92)" fill="#f9f9f9" stroke="#828282" stroke-width="1.1"/><path d="M-4.1,-2.5 L4.1,-2.5 L4.1,2.5 M-4.1,2.5 L0.0,2.5" transform="translate(658.7,962.3) rotate(74)" fill="none" stroke="#a6a6a6" stroke-width="1.2"/><path d="M-6.3,-2.0 L6.3,-2.0 L6.3,2.0 M-6.3,2.0 L0.0,2.0" transform="translate(657.0,978.7) rotate(99)" fill="none" stroke="#828282" stroke-width="1.2"/><rect x="-6.2" y="-2.3" width="12.3" height="4.6" transform="translate(654.5,993.3) rotate(87)" fill="#f9f9f9" stroke="#707070" stroke-width="1.1"/><path d="M-5.5,-2.6 L5.5,-2.6 L5.5,2.6 M-5.5,2.6 L0.0,2.6" transform="translate(651.6,1010.8) rotate(91)" fill="none" stroke="#828282" stroke-width="1.2"/>
<path d="M443.2,1153.2 L436.4,1146.3 L430.1,1138.7 L424.2,1130.2 L418.8,1121.1 L414.0,1111.3 L409.7,1100.8 L406.0,1089.8 L402.9,1078.3 L400.3,1066.2 L398.4,1053.8 L397.1,1041.0 L396.5,1028.0 L396.5,1014.7 L397.1,1001.2 L398.3,987.7 L400.2,974.1 L402.7,960.6 L405.8,947.2 L409.5,933.9 L413.7,920.9 L418.6,908.2 L423.9,895.9 L429.7,883.9 L436.1,872.5 L442.8,861.5 L450.0,851.2 L457.5,841.5 L465.4,832.5 L473.6,824.2 L482.0,816.7 L490.7,810.0 L499.5,804.1 L508.5,799.1 L517.5,795.0 L526.6,791.8 L535.7,789.6 L544.8,788.2 L553.7,787.9 L562.6,788.4 L571.2,789.9 L579.7,792.4 L587.9,795.7" fill="none" stroke="#b0b0b0" stroke-width="2.2"/>
<line x1="555.7" y1="1131.7" x2="555.5" y2="1136.5" stroke="#7a7a7a" stroke-width="1.1"/><line x1="536.9" y1="843.5" x2="536.9" y2="848.5" stroke="#7a7a7a" stroke-width="1.1"/><line x1="646.9" y1="964.8" x2="642.9" y2="970.8" stroke="#909090" stroke-width="1.1"/><path d="M574.6,1120.8 q0.9,-0.9 1.8,4.3" fill="none" stroke="#7a7a7a" stroke-width="1.1"/><path d="M622.0,1030.1 q-4.4,-2.4 -8.8,1.2" fill="none" stroke="#b8b8b8" stroke-width="1.1"/><line x1="554.6" y1="856.7" x2="550.8" y2="866.2" stroke="#909090" stroke-width="1.1"/><path d="M493.7,1111.6 q-3.7,-0.7 -7.5,4.6" fill="none" stroke="#7a7a7a" stroke-width="1.1"/><path d="M476.7,967.0 q0.1,0.2 0.2,6.5" fill="none" stroke="#a4a4a4" stroke-width="1.1"/><path d="M475.6,930.9 q-2.3,-2.4 -4.7,1.1" fill="none" stroke="#909090" stroke-width="1.1"/><line x1="573.6" y1="1119.6" x2="571.1" y2="1129.1" stroke="#7a7a7a" stroke-width="1.1"/><line x1="489.6" y1="989.0" x2="494.8" y2="991.7" stroke="#a4a4a4" stroke-width="1.1"/><line x1="530.7" y1="845.5" x2="536.5" y2="851.2" stroke="#a4a4a4" stroke-width="1.1"/><line x1="637.7" y1="1009.9" x2="637.7" y2="1015.0" stroke="#7a7a7a" stroke-width="1.1"/><line x1="628.8" y1="1024.5" x2="623.6" y2="1032.7" stroke="#b8b8b8" stroke-width="1.1"/><path d="M484.2,1019.4 q-0.3,2.3 -0.6,10.7" fill="none" stroke="#a4a4a4" stroke-width="1.1"/><path d="M509.4,921.8 q1.1,-0.6 2.2,4.7" fill="none" stroke="#b8b8b8" stroke-width="1.1"/><path d="M458.8,1009.2 q1.5,-0.3 3.1,5.4" fill="none" stroke="#b8b8b8" stroke-width="1.1"/><path d="M630.1,987.8 q-1.3,-0.8 -2.6,4.3" fill="none" stroke="#a4a4a4" stroke-width="1.1"/><line x1="492.5" y1="1094.1" x2="499.8" y2="1097.6" stroke="#7a7a7a" stroke-width="1.1"/><path d="M626.3,929.6 q0.6,-0.4 1.2,5.3" fill="none" stroke="#7a7a7a" stroke-width="1.1"/><path d="M523.0,1138.9 q-5.0,-2.0 -9.9,1.9" fill="none" stroke="#7a7a7a" stroke-width="1.1"/><line x1="586.7" y1="838.4" x2="583.5" y2="845.3" stroke="#a4a4a4" stroke-width="1.1"/><line x1="559.0" y1="860.6" x2="554.4" y2="868.3" stroke="#b8b8b8" stroke-width="1.1"/><path d="M633.1,995.4 q-2.6,-2.1 -5.1,1.9" fill="none" stroke="#b8b8b8" stroke-width="1.1"/><path d="M474.3,1073.4 q-1.4,2.1 -2.8,10.1" fill="none" stroke="#909090" stroke-width="1.1"/><path d="M509.8,1126.2 q-3.9,-2.2 -7.7,1.5" fill="none" stroke="#a4a4a4" stroke-width="1.1"/><line x1="501.3" y1="915.9" x2="502.0" y2="922.3" stroke="#b8b8b8" stroke-width="1.1"/><line x1="516.0" y1="1094.3" x2="514.5" y2="1104.5" stroke="#909090" stroke-width="1.1"/><line x1="552.2" y1="1100.9" x2="552.9" y2="1105.2" stroke="#a4a4a4" stroke-width="1.1"/><path d="M528.0,886.1 q-4.5,-2.5 -9.1,1.1" fill="none" stroke="#7a7a7a" stroke-width="1.1"/><path d="M614.1,844.6 q2.9,-1.7 5.8,2.7" fill="none" stroke="#909090" stroke-width="1.1"/><path d="M528.5,896.9 q3.1,-2.7 6.2,0.5" fill="none" stroke="#a4a4a4" stroke-width="1.1"/><path d="M578.0,842.0 q-1.8,-0.1 -3.6,5.8" fill="none" stroke="#a4a4a4" stroke-width="1.1"/><line x1="636.6" y1="879.0" x2="635.0" y2="883.4" stroke="#b8b8b8" stroke-width="1.1"/><line x1="468.1" y1="1075.5" x2="478.1" y2="1076.3" stroke="#a4a4a4" stroke-width="1.1"/><path d="M630.4,988.6 q-2.7,0.2 -5.4,6.3" fill="none" stroke="#a4a4a4" stroke-width="1.1"/><line x1="632.6" y1="1012.4" x2="625.8" y2="1016.1" stroke="#a4a4a4" stroke-width="1.1"/><path d="M476.3,1045.0 q-0.7,1.0 -1.4,8.0" fill="none" stroke="#a4a4a4" stroke-width="1.1"/><line x1="503.4" y1="874.4" x2="510.7" y2="875.1" stroke="#a4a4a4" stroke-width="1.1"/><path d="M478.8,932.3 q1.7,0.6 3.3,7.2" fill="none" stroke="#a4a4a4" stroke-width="1.1"/><path d="M523.4,854.9 q-3.3,-2.9 -6.5,0.2" fill="none" stroke="#909090" stroke-width="1.1"/><path d="M519.8,900.0 q3.1,-0.7 6.2,4.7" fill="none" stroke="#909090" stroke-width="1.1"/><line x1="499.0" y1="886.1" x2="489.5" y2="890.2" stroke="#909090" stroke-width="1.1"/><line x1="491.1" y1="1103.6" x2="484.7" y2="1106.6" stroke="#909090" stroke-width="1.1"/><path d="M491.6,1111.6 q1.9,0.1 3.8,6.1" fill="none" stroke="#7a7a7a" stroke-width="1.1"/><path d="M567.0,874.6 q1.3,1.1 2.6,8.1" fill="none" stroke="#a4a4a4" stroke-width="1.1"/><path d="M491.9,927.4 q-5.1,-2.1 -10.3,1.8" fill="none" stroke="#909090" stroke-width="1.1"/><path d="M548.4,1119.7 q0.7,0.1 1.5,6.1" fill="none" stroke="#a4a4a4" stroke-width="1.1"/><line x1="635.6" y1="993.8" x2="642.6" y2="997.6" stroke="#a4a4a4" stroke-width="1.1"/><path d="M599.2,1091.6 q2.3,-3.0 4.6,0.1" fill="none" stroke="#909090" stroke-width="1.1"/><line x1="540.4" y1="853.1" x2="538.7" y2="860.1" stroke="#909090" stroke-width="1.1"/><line x1="567.9" y1="875.6" x2="569.7" y2="884.9" stroke="#b8b8b8" stroke-width="1.1"/><path d="M638.3,994.4 q2.0,-2.3 3.9,1.4" fill="none" stroke="#7a7a7a" stroke-width="1.1"/><line x1="516.7" y1="1116.8" x2="512.1" y2="1121.4" stroke="#b8b8b8" stroke-width="1.1"/><line x1="618.4" y1="1066.8" x2="611.8" y2="1074.9" stroke="#a4a4a4" stroke-width="1.1"/><path d="M631.0,1023.5 q-2.7,1.0 -5.4,7.9" fill="none" stroke="#7a7a7a" stroke-width="1.1"/><line x1="498.2" y1="899.8" x2="492.4" y2="906.5" stroke="#7a7a7a" stroke-width="1.1"/><line x1="502.8" y1="1130.3" x2="503.0" y2="1135.1" stroke="#909090" stroke-width="1.1"/><line x1="635.1" y1="1000.2" x2="631.9" y2="1007.3" stroke="#7a7a7a" stroke-width="1.1"/><line x1="630.8" y1="856.6" x2="626.3" y2="857.0" stroke="#909090" stroke-width="1.1"/><path d="M535.1,1106.9 q2.9,-2.4 5.7,1.3" fill="none" stroke="#7a7a7a" stroke-width="1.1"/><line x1="637.9" y1="960.6" x2="644.1" y2="961.4" stroke="#b8b8b8" stroke-width="1.1"/><path d="M479.1,933.3 q-5.0,-0.9 -10.0,4.2" fill="none" stroke="#a4a4a4" stroke-width="1.1"/><line x1="511.3" y1="1106.7" x2="515.1" y2="1116.9" stroke="#b8b8b8" stroke-width="1.1"/><line x1="611.5" y1="841.1" x2="617.6" y2="846.8" stroke="#a4a4a4" stroke-width="1.1"/><line x1="567.8" y1="822.5" x2="563.0" y2="831.0" stroke="#7a7a7a" stroke-width="1.1"/><line x1="600.6" y1="833.6" x2="598.1" y2="837.2" stroke="#a4a4a4" stroke-width="1.1"/><line x1="469.5" y1="1031.0" x2="467.7" y2="1038.0" stroke="#b8b8b8" stroke-width="1.1"/><line x1="625.3" y1="884.5" x2="617.1" y2="884.7" stroke="#909090" stroke-width="1.1"/><line x1="604.2" y1="838.0" x2="610.5" y2="839.3" stroke="#a4a4a4" stroke-width="1.1"/><line x1="539.9" y1="869.4" x2="538.7" y2="877.7" stroke="#909090" stroke-width="1.1"/><line x1="583.0" y1="865.3" x2="574.1" y2="869.5" stroke="#a4a4a4" stroke-width="1.1"/><line x1="484.0" y1="997.9" x2="479.1" y2="999.0" stroke="#a4a4a4" stroke-width="1.1"/><path d="M469.8,950.6 q2.4,-1.5 4.9,2.9" fill="none" stroke="#b8b8b8" stroke-width="1.1"/><path d="M519.6,849.9 q1.3,-0.2 2.6,5.7" fill="none" stroke="#b8b8b8" stroke-width="1.1"/><path d="M590.9,1096.9 q1.0,-0.9 2.1,4.2" fill="none" stroke="#a4a4a4" stroke-width="1.1"/><path d="M475.5,1022.3 q-3.5,0.3 -7.0,6.6" fill="none" stroke="#909090" stroke-width="1.1"/><path d="M528.0,860.2 q-3.1,-0.8 -6.2,4.5" fill="none" stroke="#a4a4a4" stroke-width="1.1"/><line x1="570.0" y1="1128.1" x2="573.8" y2="1130.4" stroke="#a4a4a4" stroke-width="1.1"/><line x1="542.2" y1="1114.0" x2="541.7" y2="1121.0" stroke="#b8b8b8" stroke-width="1.1"/><line x1="569.0" y1="1120.1" x2="565.6" y2="1129.0" stroke="#a4a4a4" stroke-width="1.1"/><path d="M559.8,858.1 q-1.5,-1.5 -3.1,3.0" fill="none" stroke="#b8b8b8" stroke-width="1.1"/><line x1="510.4" y1="903.6" x2="505.4" y2="906.2" stroke="#909090" stroke-width="1.1"/><path d="M557.0,859.0 q2.2,0.7 4.4,7.4" fill="none" stroke="#7a7a7a" stroke-width="1.1"/><path d="M478.7,1024.2 q-3.4,-2.3 -6.8,1.4" fill="none" stroke="#7a7a7a" stroke-width="1.1"/><path d="M476.5,914.4 q0.9,1.4 1.8,8.7" fill="none" stroke="#b8b8b8" stroke-width="1.1"/><line x1="634.6" y1="1005.6" x2="633.9" y2="1011.0" stroke="#a4a4a4" stroke-width="1.1"/><line x1="590.3" y1="837.7" x2="594.1" y2="840.8" stroke="#7a7a7a" stroke-width="1.1"/><line x1="615.8" y1="894.3" x2="609.7" y2="898.1" stroke="#909090" stroke-width="1.1"/><line x1="490.0" y1="992.8" x2="492.2" y2="1001.4" stroke="#909090" stroke-width="1.1"/><path d="M617.8,848.2 q1.2,-0.8 2.5,4.4" fill="none" stroke="#7a7a7a" stroke-width="1.1"/><line x1="481.8" y1="945.1" x2="483.5" y2="949.4" stroke="#a4a4a4" stroke-width="1.1"/><line x1="479.9" y1="969.7" x2="482.4" y2="973.3" stroke="#b8b8b8" stroke-width="1.1"/><line x1="619.6" y1="896.9" x2="625.0" y2="897.8" stroke="#a4a4a4" stroke-width="1.1"/><path d="M524.8,857.6 q-2.4,-2.5 -4.9,1.1" fill="none" stroke="#a4a4a4" stroke-width="1.1"/><path d="M644.3,929.5 q1.2,-1.2 2.4,3.6" fill="none" stroke="#7a7a7a" stroke-width="1.1"/><path d="M494.6,929.1 q-2.4,-1.2 -4.7,3.5" fill="none" stroke="#a4a4a4" stroke-width="1.1"/><path d="M508.4,895.9 q3.6,-0.3 7.3,5.4" fill="none" stroke="#909090" stroke-width="1.1"/><line x1="471.4" y1="1038.2" x2="467.4" y2="1040.0" stroke="#7a7a7a" stroke-width="1.1"/><path d="M492.2,982.7 q-3.1,0.3 -6.1,6.7" fill="none" stroke="#909090" stroke-width="1.1"/><path d="M534.8,852.1 q2.4,-1.1 4.8,3.7" fill="none" stroke="#909090" stroke-width="1.1"/><line x1="632.4" y1="936.7" x2="636.9" y2="938.1" stroke="#7a7a7a" stroke-width="1.1"/><path d="M473.7,1054.9 q-2.8,-2.2 -5.6,1.7" fill="none" stroke="#b8b8b8" stroke-width="1.1"/><path d="M525.3,1105.4 q2.2,0.4 4.4,6.8" fill="none" stroke="#909090" stroke-width="1.1"/><path d="M538.6,1129.6 q-2.7,-2.5 -5.4,0.9" fill="none" stroke="#909090" stroke-width="1.1"/><path d="M635.6,1025.8 q3.2,-0.3 6.5,5.5" fill="none" stroke="#7a7a7a" stroke-width="1.1"/><line x1="592.0" y1="1091.6" x2="594.0" y2="1097.7" stroke="#7a7a7a" stroke-width="1.1"/><line x1="486.6" y1="958.7" x2="482.1" y2="963.3" stroke="#b8b8b8" stroke-width="1.1"/><path d="M631.5,933.5 q1.7,-0.6 3.5,4.9" fill="none" stroke="#7a7a7a" stroke-width="1.1"/><path d="M464.8,1006.1 q-4.5,-1.6 -8.9,2.8" fill="none" stroke="#a4a4a4" stroke-width="1.1"/><path d="M490.3,883.0 q-3.2,-2.4 -6.3,1.1" fill="none" stroke="#a4a4a4" stroke-width="1.1"/><path d="M504.6,1101.6 q-2.0,-0.9 -4.0,4.1" fill="none" stroke="#909090" stroke-width="1.1"/><line x1="623.8" y1="859.0" x2="625.1" y2="868.0" stroke="#7a7a7a" stroke-width="1.1"/><path d="M501.2,903.5 q-0.1,-0.9 -0.2,4.2" fill="none" stroke="#7a7a7a" stroke-width="1.1"/><path d="M548.9,859.3 q4.8,-1.8 9.6,2.3" fill="none" stroke="#909090" stroke-width="1.1"/><path d="M535.7,885.9 q-0.9,-1.2 -1.8,3.6" fill="none" stroke="#b8b8b8" stroke-width="1.1"/><line x1="541.0" y1="1104.6" x2="546.0" y2="1107.2" stroke="#a4a4a4" stroke-width="1.1"/><path d="M589.6,1115.0 q1.5,0.4 3.1,6.9" fill="none" stroke="#909090" stroke-width="1.1"/><line x1="472.1" y1="920.8" x2="465.3" y2="928.6" stroke="#909090" stroke-width="1.1"/><path d="M464.7,988.7 q-2.2,0.3 -4.5,6.6" fill="none" stroke="#909090" stroke-width="1.1"/><path d="M642.4,997.5 q3.9,-1.6 7.9,2.8" fill="none" stroke="#7a7a7a" stroke-width="1.1"/><line x1="501.1" y1="922.3" x2="494.8" y2="927.4" stroke="#7a7a7a" stroke-width="1.1"/><line x1="624.0" y1="1055.0" x2="627.7" y2="1058.0" stroke="#909090" stroke-width="1.1"/><path d="M492.2,1113.3 q-3.5,-2.1 -7.0,1.8" fill="none" stroke="#7a7a7a" stroke-width="1.1"/><path d="M597.3,1106.9 q-2.1,-1.5 -4.2,3.1" fill="none" stroke="#909090" stroke-width="1.1"/><path d="M555.9,876.4 q-1.9,-2.3 -3.7,1.5" fill="none" stroke="#7a7a7a" stroke-width="1.1"/><line x1="597.8" y1="832.4" x2="594.0" y2="840.8" stroke="#909090" stroke-width="1.1"/><line x1="631.2" y1="1039.1" x2="628.1" y2="1045.2" stroke="#a4a4a4" stroke-width="1.1"/><line x1="604.0" y1="861.9" x2="604.1" y2="871.3" stroke="#a4a4a4" stroke-width="1.1"/><path d="M576.6,831.4 q-1.3,1.6 -2.7,9.2" fill="none" stroke="#b8b8b8" stroke-width="1.1"/><path d="M512.2,855.6 q-2.7,-0.3 -5.3,5.4" fill="none" stroke="#7a7a7a" stroke-width="1.1"/><path d="M598.6,839.2 q-4.1,-0.9 -8.2,4.3" fill="none" stroke="#909090" stroke-width="1.1"/><path d="M483.5,1012.4 q-3.6,-1.9 -7.1,2.1" fill="none" stroke="#7a7a7a" stroke-width="1.1"/><path d="M598.9,839.8 q-4.3,-2.2 -8.6,1.6" fill="none" stroke="#b8b8b8" stroke-width="1.1"/><path d="M614.7,883.0 q-3.6,-1.0 -7.1,4.0" fill="none" stroke="#a4a4a4" stroke-width="1.1"/><path d="M491.6,988.3 q-2.0,-1.7 -4.0,2.7" fill="none" stroke="#b8b8b8" stroke-width="1.1"/><line x1="524.3" y1="1099.3" x2="531.9" y2="1101.3" stroke="#b8b8b8" stroke-width="1.1"/><path d="M514.3,895.6 q1.5,-1.3 3.0,3.5" fill="none" stroke="#b8b8b8" stroke-width="1.1"/><line x1="490.5" y1="950.5" x2="488.3" y2="955.6" stroke="#b8b8b8" stroke-width="1.1"/><path d="M577.0,1107.9 q2.2,1.9 4.5,9.7" fill="none" stroke="#909090" stroke-width="1.1"/><line x1="617.5" y1="847.2" x2="623.6" y2="856.1" stroke="#a4a4a4" stroke-width="1.1"/><path d="M460.0,969.5 q-2.3,-1.6 -4.6,2.7" fill="none" stroke="#909090" stroke-width="1.1"/><line x1="611.3" y1="1071.8" x2="607.5" y2="1078.8" stroke="#a4a4a4" stroke-width="1.1"/><line x1="580.2" y1="841.3" x2="576.7" y2="844.8" stroke="#a4a4a4" stroke-width="1.1"/><line x1="459.3" y1="1034.0" x2="456.1" y2="1039.7" stroke="#b8b8b8" stroke-width="1.1"/><path d="M598.3,885.9 q0.1,1.3 0.2,8.6" fill="none" stroke="#7a7a7a" stroke-width="1.1"/><line x1="622.2" y1="866.4" x2="623.5" y2="874.2" stroke="#909090" stroke-width="1.1"/><path d="M574.0,876.5 q2.9,-1.7 5.7,2.6" fill="none" stroke="#a4a4a4" stroke-width="1.1"/><line x1="495.2" y1="905.2" x2="496.6" y2="909.2" stroke="#a4a4a4" stroke-width="1.1"/><line x1="546.3" y1="1143.4" x2="545.7" y2="1147.5" stroke="#b8b8b8" stroke-width="1.1"/><line x1="608.1" y1="853.0" x2="601.5" y2="853.7" stroke="#a4a4a4" stroke-width="1.1"/><line x1="533.3" y1="1105.3" x2="526.5" y2="1109.4" stroke="#a4a4a4" stroke-width="1.1"/><line x1="626.5" y1="1046.1" x2="622.4" y2="1052.6" stroke="#7a7a7a" stroke-width="1.1"/><path d="M488.0,1097.0 q-2.8,-2.0 -5.6,2.0" fill="none" stroke="#b8b8b8" stroke-width="1.1"/><path d="M509.8,1106.6 q1.6,-1.3 3.3,3.5" fill="none" stroke="#b8b8b8" stroke-width="1.1"/><line x1="598.9" y1="859.7" x2="594.3" y2="860.8" stroke="#b8b8b8" stroke-width="1.1"/><line x1="491.3" y1="1046.6" x2="501.4" y2="1048.0" stroke="#a4a4a4" stroke-width="1.1"/><path d="M472.1,1005.0 q-3.1,0.0 -6.2,6.1" fill="none" stroke="#a4a4a4" stroke-width="1.1"/><path d="M559.7,857.0 q-4.3,-0.8 -8.6,4.4" fill="none" stroke="#7a7a7a" stroke-width="1.1"/><line x1="583.2" y1="878.3" x2="581.2" y2="887.9" stroke="#a4a4a4" stroke-width="1.1"/><line x1="480.3" y1="1108.9" x2="470.9" y2="1112.8" stroke="#7a7a7a" stroke-width="1.1"/><path d="M539.5,864.4 q4.5,-1.3 9.1,3.3" fill="none" stroke="#a4a4a4" stroke-width="1.1"/><path d="M571.2,871.6 q-3.0,-1.4 -6.0,3.3" fill="none" stroke="#a4a4a4" stroke-width="1.1"/><line x1="481.4" y1="979.5" x2="475.2" y2="987.4" stroke="#909090" stroke-width="1.1"/><line x1="473.2" y1="958.3" x2="482.6" y2="962.5" stroke="#a4a4a4" stroke-width="1.1"/><line x1="628.6" y1="944.5" x2="627.7" y2="948.4" stroke="#909090" stroke-width="1.1"/><path d="M478.8,1061.4 q-2.6,-1.6 -5.2,2.8" fill="none" stroke="#909090" stroke-width="1.1"/><line x1="532.7" y1="848.9" x2="525.6" y2="851.2" stroke="#7a7a7a" stroke-width="1.1"/><line x1="615.2" y1="861.1" x2="624.5" y2="865.2" stroke="#b8b8b8" stroke-width="1.1"/><line x1="535.5" y1="1100.5" x2="528.5" y2="1104.8" stroke="#a4a4a4" stroke-width="1.1"/><path d="M633.4,924.3 q-0.7,0.2 -1.4,6.4" fill="none" stroke="#7a7a7a" stroke-width="1.1"/><path d="M551.9,877.5 q2.6,1.2 5.2,8.4" fill="none" stroke="#7a7a7a" stroke-width="1.1"/><path d="M584.1,854.8 q-3.8,-2.7 -7.5,0.5" fill="none" stroke="#7a7a7a" stroke-width="1.1"/><line x1="606.2" y1="889.9" x2="604.0" y2="895.0" stroke="#a4a4a4" stroke-width="1.1"/><line x1="489.4" y1="956.3" x2="482.7" y2="960.5" stroke="#a4a4a4" stroke-width="1.1"/><line x1="607.3" y1="861.6" x2="604.1" y2="864.3" stroke="#7a7a7a" stroke-width="1.1"/><line x1="535.2" y1="1118.6" x2="542.1" y2="1126.7" stroke="#7a7a7a" stroke-width="1.1"/><line x1="481.5" y1="1062.3" x2="487.7" y2="1067.6" stroke="#7a7a7a" stroke-width="1.1"/><line x1="640.4" y1="967.3" x2="651.1" y2="969.8" stroke="#b8b8b8" stroke-width="1.1"/><path d="M460.5,1046.8 q-1.8,1.7 -3.7,9.5" fill="none" stroke="#909090" stroke-width="1.1"/><path d="M575.0,1116.4 q2.4,-1.3 4.9,3.4" fill="none" stroke="#7a7a7a" stroke-width="1.1"/><line x1="572.4" y1="1134.7" x2="576.0" y2="1138.7" stroke="#a4a4a4" stroke-width="1.1"/><line x1="562.8" y1="838.3" x2="566.3" y2="841.0" stroke="#7a7a7a" stroke-width="1.1"/><line x1="516.3" y1="863.3" x2="514.9" y2="871.0" stroke="#909090" stroke-width="1.1"/><path d="M513.7,1104.6 q-1.6,-1.3 -3.2,3.5" fill="none" stroke="#a4a4a4" stroke-width="1.1"/><path d="M587.3,861.9 q2.1,1.6 4.2,9.1" fill="none" stroke="#b8b8b8" stroke-width="1.1"/><line x1="620.9" y1="1061.7" x2="615.0" y2="1063.7" stroke="#909090" stroke-width="1.1"/><line x1="488.3" y1="957.8" x2="491.2" y2="963.8" stroke="#7a7a7a" stroke-width="1.1"/><path d="M572.7,1110.5 q-0.3,1.8 -0.6,9.7" fill="none" stroke="#b8b8b8" stroke-width="1.1"/><path d="M635.8,915.2 q2.3,-2.2 4.7,1.7" fill="none" stroke="#b8b8b8" stroke-width="1.1"/><line x1="618.0" y1="841.4" x2="614.4" y2="844.3" stroke="#909090" stroke-width="1.1"/><path d="M495.1,956.2 q-1.2,-0.1 -2.4,5.8" fill="none" stroke="#b8b8b8" stroke-width="1.1"/><line x1="524.2" y1="889.4" x2="518.7" y2="891.0" stroke="#b8b8b8" stroke-width="1.1"/><line x1="643.5" y1="952.6" x2="635.7" y2="954.5" stroke="#b8b8b8" stroke-width="1.1"/><line x1="485.0" y1="914.4" x2="493.7" y2="919.5" stroke="#909090" stroke-width="1.1"/><line x1="460.8" y1="1007.7" x2="468.5" y2="1010.7" stroke="#b8b8b8" stroke-width="1.1"/><line x1="624.2" y1="1045.1" x2="632.4" y2="1052.3" stroke="#b8b8b8" stroke-width="1.1"/><path d="M573.2,865.7 q-2.1,1.1 -4.1,8.2" fill="none" stroke="#909090" stroke-width="1.1"/><line x1="624.0" y1="1024.1" x2="618.5" y2="1025.3" stroke="#909090" stroke-width="1.1"/><line x1="496.1" y1="917.2" x2="496.6" y2="921.4" stroke="#b8b8b8" stroke-width="1.1"/><path d="M556.3,869.6 q4.2,-0.6 8.4,4.7" fill="none" stroke="#a4a4a4" stroke-width="1.1"/><line x1="602.0" y1="835.5" x2="612.4" y2="835.6" stroke="#7a7a7a" stroke-width="1.1"/><line x1="612.3" y1="868.5" x2="609.9" y2="876.4" stroke="#7a7a7a" stroke-width="1.1"/><path d="M528.7,860.1 q-1.8,0.1 -3.7,6.2" fill="none" stroke="#909090" stroke-width="1.1"/><line x1="622.8" y1="857.6" x2="629.5" y2="860.3" stroke="#909090" stroke-width="1.1"/><path d="M542.1,881.5 q-2.6,-2.0 -5.3,2.1" fill="none" stroke="#7a7a7a" stroke-width="1.1"/><line x1="533.1" y1="1114.0" x2="533.2" y2="1120.1" stroke="#a4a4a4" stroke-width="1.1"/><line x1="629.5" y1="1002.6" x2="626.8" y2="1006.5" stroke="#909090" stroke-width="1.1"/><line x1="477.6" y1="1016.1" x2="473.9" y2="1023.5" stroke="#7a7a7a" stroke-width="1.1"/><line x1="624.0" y1="866.1" x2="621.7" y2="869.7" stroke="#b8b8b8" stroke-width="1.1"/><path d="M525.1,1106.7 q-1.9,-1.5 -3.9,3.1" fill="none" stroke="#a4a4a4" stroke-width="1.1"/><line x1="496.6" y1="1063.0" x2="491.5" y2="1063.8" stroke="#b8b8b8" stroke-width="1.1"/><path d="M630.4,853.2 q3.0,0.5 6.0,7.0" fill="none" stroke="#909090" stroke-width="1.1"/><path d="M487.3,949.0 q1.7,0.5 3.4,7.0" fill="none" stroke="#a4a4a4" stroke-width="1.1"/><path d="M585.3,867.4 q3.1,-2.2 6.2,1.6" fill="none" stroke="#909090" stroke-width="1.1"/><line x1="609.9" y1="879.4" x2="613.3" y2="887.0" stroke="#7a7a7a" stroke-width="1.1"/><line x1="591.0" y1="1113.6" x2="590.0" y2="1122.1" stroke="#b8b8b8" stroke-width="1.1"/><path d="M469.2,959.3 q-1.9,0.8 -3.8,7.5" fill="none" stroke="#909090" stroke-width="1.1"/><line x1="624.3" y1="934.3" x2="620.7" y2="938.8" stroke="#909090" stroke-width="1.1"/><path d="M515.0,903.4 q3.3,1.1 6.7,8.3" fill="none" stroke="#b8b8b8" stroke-width="1.1"/><line x1="543.5" y1="1100.5" x2="550.5" y2="1105.9" stroke="#a4a4a4" stroke-width="1.1"/><line x1="524.2" y1="856.3" x2="529.0" y2="857.4" stroke="#7a7a7a" stroke-width="1.1"/><path d="M524.0,1093.8 q2.2,-2.9 4.5,0.2" fill="none" stroke="#a4a4a4" stroke-width="1.1"/><line x1="480.6" y1="925.2" x2="480.4" y2="933.7" stroke="#a4a4a4" stroke-width="1.1"/><path d="M460.8,1027.3 q0.9,-0.3 1.9,5.5" fill="none" stroke="#909090" stroke-width="1.1"/><path d="M564.8,873.1 q2.5,1.6 5.0,9.3" fill="none" stroke="#909090" stroke-width="1.1"/><path d="M609.3,885.0 q-4.1,-0.1 -8.1,5.8" fill="none" stroke="#a4a4a4" stroke-width="1.1"/><line x1="633.1" y1="1005.5" x2="642.2" y2="1010.4" stroke="#a4a4a4" stroke-width="1.1"/><path d="M577.6,1100.2 q-2.3,-2.9 -4.7,0.3" fill="none" stroke="#b8b8b8" stroke-width="1.1"/><path d="M626.0,1046.1 q-2.9,-2.4 -5.7,1.3" fill="none" stroke="#a4a4a4" stroke-width="1.1"/><path d="M562.3,871.0 q3.3,0.4 6.7,6.8" fill="none" stroke="#a4a4a4" stroke-width="1.1"/><line x1="526.6" y1="846.4" x2="535.6" y2="851.6" stroke="#b8b8b8" stroke-width="1.1"/><path d="M643.4,897.4 q3.6,0.4 7.3,6.8" fill="none" stroke="#b8b8b8" stroke-width="1.1"/><path d="M630.3,1003.2 q1.3,0.0 2.7,6.1" fill="none" stroke="#a4a4a4" stroke-width="1.1"/><path d="M488.8,1025.1 q-2.2,-0.2 -4.5,5.7" fill="none" stroke="#7a7a7a" stroke-width="1.1"/><path d="M459.9,992.2 q1.2,2.0 2.4,10.1" fill="none" stroke="#7a7a7a" stroke-width="1.1"/><path d="M626.2,1052.0 q-3.6,-2.3 -7.1,1.4" fill="none" stroke="#7a7a7a" stroke-width="1.1"/><path d="M557.9,1141.0 q-3.6,-1.4 -7.3,3.1" fill="none" stroke="#b8b8b8" stroke-width="1.1"/><path d="M646.3,950.3 q2.4,-1.5 4.9,2.9" fill="none" stroke="#a4a4a4" stroke-width="1.1"/><path d="M618.9,1059.7 q0.6,2.2 1.3,10.4" fill="none" stroke="#909090" stroke-width="1.1"/><path d="M480.9,1017.2 q-1.3,-0.6 -2.7,4.7" fill="none" stroke="#a4a4a4" stroke-width="1.1"/><line x1="552.3" y1="854.7" x2="552.2" y2="860.5" stroke="#7a7a7a" stroke-width="1.1"/><line x1="546.6" y1="882.2" x2="540.1" y2="887.8" stroke="#909090" stroke-width="1.1"/><path d="M622.8,892.7 q4.3,-0.2 8.7,5.6" fill="none" stroke="#909090" stroke-width="1.1"/><path d="M466.5,1017.1 q-3.2,-1.4 -6.4,3.2" fill="none" stroke="#a4a4a4" stroke-width="1.1"/><path d="M595.7,1088.4 q-1.2,1.5 -2.4,8.9" fill="none" stroke="#7a7a7a" stroke-width="1.1"/><path d="M543.4,885.1 q4.0,0.6 7.9,7.1" fill="none" stroke="#b8b8b8" stroke-width="1.1"/>
<ellipse cx="560.3" cy="989" rx="67" ry="108" transform="rotate(7 560.3 989)" fill="#cfcfcf" filter="url(#blur3)"/>
<ellipse cx="560.3" cy="989" rx="64" ry="105" transform="rotate(7 560.3 989)" fill="#a5a5a5"/>
<ellipse cx="566.3" cy="987" rx="49" ry="88" transform="rotate(7 560.3 989)" fill="#d6d6d6" stroke="#989898" stroke-width="1.2"/>
<path d="M569.6,966.5 L581.8,907.7 Q595.2,915.2 603.6,934.3 L574.0,971.8 Z" fill="#a7a7a7"/><path d="M577.2,986.9 L611.0,968.6 Q612.3,994.0 605.8,1018.9 L576.2,996.9 Z" fill="#a7a7a7"/><path d="M569.9,1011.4 L591.5,1051.9 Q579.3,1069.8 564.5,1075.6 L564.5,1016.1 Z" fill="#a7a7a7"/><path d="M555.0,1015.5 L542.8,1074.3 Q529.4,1066.8 521.0,1047.7 L550.6,1010.2 Z" fill="#a7a7a7"/><path d="M547.4,995.1 L513.6,1013.4 Q512.3,988.0 518.8,963.1 L548.4,985.1 Z" fill="#a7a7a7"/><path d="M554.7,970.6 L533.1,930.1 Q545.3,912.2 560.1,906.4 L560.1,965.9 Z" fill="#a7a7a7"/>
<ellipse cx="576.3" cy="993" rx="13" ry="17" fill="#ededed" stroke="#cfcfcf" stroke-width="1"/>
<line x1="573.8" y1="884.9" x2="575.7" y2="870.4" stroke="#333" stroke-width="1.3"/><line x1="533.8" y1="899.6" x2="531.3" y2="890.9" stroke="#333" stroke-width="1.3"/><line x1="585.2" y1="888.3" x2="587.6" y2="878.7" stroke="#333" stroke-width="1.3"/><line x1="501.8" y1="956.1" x2="495.7" y2="952.6" stroke="#333" stroke-width="1.3"/><line x1="558.3" y1="885.7" x2="558.1" y2="875.2" stroke="#333" stroke-width="1.3"/><line x1="598.7" y1="897.8" x2="604.1" y2="885.0" stroke="#333" stroke-width="1.3"/><line x1="530.1" y1="1086.8" x2="527.3" y2="1096.0" stroke="#333" stroke-width="1.3"/><line x1="497.4" y1="976.5" x2="488.8" y2="974.7" stroke="#333" stroke-width="1.3"/><line x1="514.6" y1="924.7" x2="508.1" y2="915.6" stroke="#333" stroke-width="1.3"/><line x1="499.8" y1="1038.1" x2="490.9" y2="1045.3" stroke="#333" stroke-width="1.3"/><line x1="509.0" y1="1062.6" x2="501.6" y2="1073.3" stroke="#333" stroke-width="1.3"/><line x1="521.0" y1="914.3" x2="516.4" y2="905.5" stroke="#333" stroke-width="1.3"/><line x1="511.4" y1="930.8" x2="505.9" y2="924.3" stroke="#333" stroke-width="1.3"/><line x1="498.1" y1="1030.7" x2="490.4" y2="1035.9" stroke="#333" stroke-width="1.3"/><line x1="497.4" y1="1026.4" x2="490.3" y2="1030.6" stroke="#333" stroke-width="1.3"/><line x1="586.1" y1="888.7" x2="590.2" y2="872.7" stroke="#333" stroke-width="1.3"/>
<circle cx="592.4" cy="997.4" r="9" fill="#e6e6e6" stroke="#444" stroke-width="2"/>
<circle cx="592.4" cy="997.4" r="4.5" fill="none" stroke="#555" stroke-width="1.5"/>
<line x1="408.0" y1="449.3" x2="535.3" y2="449.4" stroke="#000" stroke-width="5.3"/><path d="M580.0,449.4 Q553.5,446.1 527.0,433.1 Q537.2,442.0 536.3,449.4 Q537.2,456.7 527.0,465.7 Q553.5,452.6 580.0,449.4Z" fill="#000"/>
<line x1="990.0" y1="378.4" x2="1117.3" y2="378.4" stroke="#000" stroke-width="5.3"/><path d="M1162.0,378.4 Q1135.5,375.1 1109.0,362.1 Q1119.2,371.1 1118.3,378.4 Q1119.2,385.7 1109.0,394.7 Q1135.5,381.7 1162.0,378.4Z" fill="#000"/>
<line x1="990.0" y1="624.5" x2="1117.3" y2="624.1" stroke="#000" stroke-width="5.3"/><path d="M1162.0,624.0 Q1135.5,620.8 1109.0,607.9 Q1119.2,616.8 1118.3,624.1 Q1119.3,631.5 1109.0,640.5 Q1135.5,627.3 1162.0,624.0Z" fill="#000"/>
<line x1="1355.0" y1="449.0" x2="1313.4" y2="412.6" stroke="#000" stroke-width="5.5"/><path d="M1299.8,400.8 Q1304.6,412.7 1307.1,427.5 Q1308.9,418.9 1312.6,412.0 Q1319.0,407.4 1327.2,404.4 Q1312.3,404.0 1299.8,400.8Z" fill="#000"/>
<line x1="1356.0" y1="553.8" x2="1313.5" y2="589.9" stroke="#000" stroke-width="5.5"/><path d="M1299.8,601.6 Q1312.3,598.6 1327.2,598.4 Q1319.1,595.2 1312.7,590.6 Q1309.2,583.6 1307.4,575.0 Q1304.8,589.7 1299.8,601.6Z" fill="#000"/>
<line x1="317.2" y1="915.6" x2="262.4" y2="905.6" stroke="#000" stroke-width="5.5"/><path d="M245.7,902.6 Q255.5,910.2 264.7,921.3 Q261.9,913.2 261.4,905.5 Q264.6,898.4 270.0,891.8 Q257.5,899.0 245.7,902.6Z" fill="#000"/>
<path d="M1216.4,357 L1223.6,357 M1232.4,357 L1247.3,357 M1256,357 L1271.8,357 M1280.6,357 L1292.2,357 M1228.5,645 L1243.5,645 M1252.9,645 L1267.9,645 M1276.4,645 L1292.2,645 M1218.2,355.2 L1218.2,363.2 M1218.2,371 L1218.2,386.8 M1218.2,394.7 L1218.2,410.5 M1218.2,418 L1218.2,434 M1218.2,441 L1218.2,457 M1218.2,465.6 L1218.2,481.4 M1218.2,489.2 L1218.2,505 M1218.2,512.8 L1218.2,528.6 M1218.2,536.4 L1218.2,552.2 M1218.2,560 L1218.2,575.8 M1218.2,583.6 L1218.2,599.4 M1218.2,607.2 L1218.2,623 M1218.2,630.8 L1218.2,646.8 M1290.4,355.2 L1290.4,361 M1290.4,365.8 L1290.4,381.6 M1290.4,392 L1290.4,406.5 M1290.4,415.7 L1290.4,430.6 M1290.4,439.5 L1290.4,454 M1290.4,463 L1290.4,478 M1290.4,486.6 L1290.4,502.5 M1290.4,511 L1290.4,526 M1290.4,534.4 L1290.4,550.4 M1290.4,558.8 L1290.4,574.8 M1290.4,583.2 L1290.4,598.2 M1290.4,606.7 L1290.4,622.6 M1290.4,631 L1290.4,646.8" fill="none" stroke="#F5D21E" stroke-width="3.7"/>
<circle cx="488.3" cy="394.4" r="30.3" fill="#FFD800"/><text x="489.6" y="411.6" text-anchor="middle" font-family="Liberation Sans" font-size="51" fill="#0a0a0a">4</text>
<circle cx="288.4" cy="856.3" r="30.3" fill="#FFD800"/><text x="290.4" y="873.5" text-anchor="middle" font-family="Liberation Sans" font-size="51" fill="#0a0a0a">3</text>
<circle cx="1082.3" cy="497.3" r="30.5" fill="#FFD800"/><text x="1083.3" y="514.5" text-anchor="middle" font-family="Liberation Sans" font-size="51" fill="#0a0a0a">2</text>
<circle cx="1415.5" cy="499.2" r="30.5" fill="#FFD800"/><path d="M1421.9,481 L1421.9,516 L1417.9,516 L1417.9,488.8 Q1414,492.2 1409,493.6 L1409,489.6 Q1415.5,486.5 1418.6,481 Z" fill="#0a0a0a"/>
<path d="M874,894.2 L891.1,884.2 L900.7,900.4 Q915,872.0 937.4,854.9 L936.6,868.9 L938.3,878.5 L932.6,881.1 Q914,895.0 901.6,917.4 Q888,900.0 874,894.2 Z" fill="#F7D200"/>
<path d="M874,981.8 L891.1,971.8 L900.7,988.0 Q915,959.6 937.4,942.5 L936.6,956.5 L938.3,966.1 L932.6,968.7 Q914,982.6 901.6,1005.0 Q888,987.6 874,981.8 Z" fill="#F7D200"/>
</svg>
</body></html>
